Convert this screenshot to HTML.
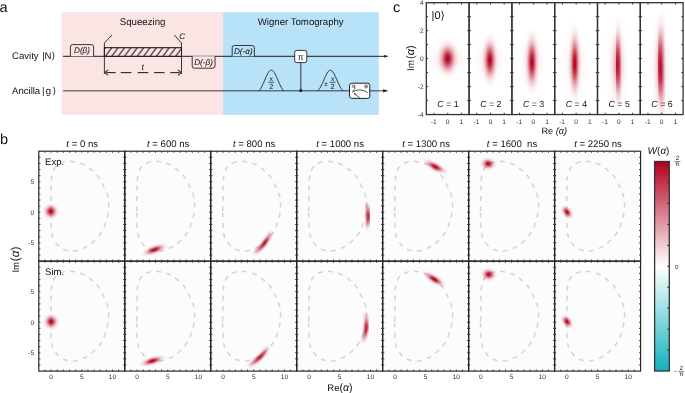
<!DOCTYPE html>
<html><head><meta charset="utf-8"><style>
html,body{margin:0;padding:0;background:#fff;}
.w{will-change:transform;width:685px;height:393px;}
svg{display:block;font-family:"Liberation Sans", sans-serif;text-rendering:geometricPrecision;}
</style></head><body>
<div class="w"><svg width="685" height="393" viewBox="0 0 685 393">
<defs><radialGradient id="g1" cx="0.5" cy="0.5" r="0.5"><stop offset="0.00" stop-color="#b4001e" stop-opacity="1.000"/><stop offset="0.10" stop-color="#b4001e" stop-opacity="0.956"/><stop offset="0.20" stop-color="#b4001e" stop-opacity="0.835"/><stop offset="0.30" stop-color="#b4001e" stop-opacity="0.667"/><stop offset="0.40" stop-color="#b4001e" stop-opacity="0.487"/><stop offset="0.50" stop-color="#b4001e" stop-opacity="0.325"/><stop offset="0.60" stop-color="#b4001e" stop-opacity="0.198"/><stop offset="0.70" stop-color="#b4001e" stop-opacity="0.110"/><stop offset="0.80" stop-color="#b4001e" stop-opacity="0.056"/><stop offset="0.90" stop-color="#b4001e" stop-opacity="0.026"/><stop offset="1.00" stop-color="#b4001e" stop-opacity="0.000"/></radialGradient><radialGradient id="g09" cx="0.5" cy="0.5" r="0.5"><stop offset="0.00" stop-color="#b4001e" stop-opacity="0.920"/><stop offset="0.10" stop-color="#b4001e" stop-opacity="0.880"/><stop offset="0.20" stop-color="#b4001e" stop-opacity="0.768"/><stop offset="0.30" stop-color="#b4001e" stop-opacity="0.614"/><stop offset="0.40" stop-color="#b4001e" stop-opacity="0.448"/><stop offset="0.50" stop-color="#b4001e" stop-opacity="0.299"/><stop offset="0.60" stop-color="#b4001e" stop-opacity="0.182"/><stop offset="0.70" stop-color="#b4001e" stop-opacity="0.101"/><stop offset="0.80" stop-color="#b4001e" stop-opacity="0.052"/><stop offset="0.90" stop-color="#b4001e" stop-opacity="0.024"/><stop offset="1.00" stop-color="#b4001e" stop-opacity="0.000"/></radialGradient><radialGradient id="g08" cx="0.5" cy="0.5" r="0.5"><stop offset="0.00" stop-color="#b4001e" stop-opacity="0.850"/><stop offset="0.10" stop-color="#b4001e" stop-opacity="0.813"/><stop offset="0.20" stop-color="#b4001e" stop-opacity="0.710"/><stop offset="0.30" stop-color="#b4001e" stop-opacity="0.567"/><stop offset="0.40" stop-color="#b4001e" stop-opacity="0.414"/><stop offset="0.50" stop-color="#b4001e" stop-opacity="0.276"/><stop offset="0.60" stop-color="#b4001e" stop-opacity="0.168"/><stop offset="0.70" stop-color="#b4001e" stop-opacity="0.094"/><stop offset="0.80" stop-color="#b4001e" stop-opacity="0.048"/><stop offset="0.90" stop-color="#b4001e" stop-opacity="0.022"/><stop offset="1.00" stop-color="#b4001e" stop-opacity="0.000"/></radialGradient><radialGradient id="gh" cx="0.5" cy="0.5" r="0.5"><stop offset="0.00" stop-color="#b4001e" stop-opacity="0.100"/><stop offset="0.10" stop-color="#b4001e" stop-opacity="0.096"/><stop offset="0.20" stop-color="#b4001e" stop-opacity="0.084"/><stop offset="0.30" stop-color="#b4001e" stop-opacity="0.067"/><stop offset="0.40" stop-color="#b4001e" stop-opacity="0.049"/><stop offset="0.50" stop-color="#b4001e" stop-opacity="0.032"/><stop offset="0.60" stop-color="#b4001e" stop-opacity="0.020"/><stop offset="0.70" stop-color="#b4001e" stop-opacity="0.011"/><stop offset="0.80" stop-color="#b4001e" stop-opacity="0.006"/><stop offset="0.90" stop-color="#b4001e" stop-opacity="0.003"/><stop offset="1.00" stop-color="#b4001e" stop-opacity="0.000"/></radialGradient><radialGradient id="g03" cx="0.5" cy="0.5" r="0.5"><stop offset="0.00" stop-color="#b4001e" stop-opacity="0.350"/><stop offset="0.10" stop-color="#b4001e" stop-opacity="0.335"/><stop offset="0.20" stop-color="#b4001e" stop-opacity="0.292"/><stop offset="0.30" stop-color="#b4001e" stop-opacity="0.233"/><stop offset="0.40" stop-color="#b4001e" stop-opacity="0.170"/><stop offset="0.50" stop-color="#b4001e" stop-opacity="0.114"/><stop offset="0.60" stop-color="#b4001e" stop-opacity="0.069"/><stop offset="0.70" stop-color="#b4001e" stop-opacity="0.039"/><stop offset="0.80" stop-color="#b4001e" stop-opacity="0.020"/><stop offset="0.90" stop-color="#b4001e" stop-opacity="0.009"/><stop offset="1.00" stop-color="#b4001e" stop-opacity="0.000"/></radialGradient><linearGradient id="cbar" x1="0" y1="0" x2="0" y2="1"><stop offset="0" stop-color="#b3001f"/><stop offset="0.5" stop-color="#ffffff"/><stop offset="1" stop-color="#14b1bc"/></linearGradient><pattern id="hatch" width="5.1" height="10" patternUnits="userSpaceOnUse" patternTransform="translate(104.4 47.4) rotate(37)"><rect width="5.1" height="10" fill="#fbe4e4"/><line x1="1" y1="0" x2="1" y2="10" stroke="#1a1a1a" stroke-width="1.05"/></pattern><marker id="arr" viewBox="0 0 10 10" refX="9" refY="5" markerWidth="4.6" markerHeight="3.6" orient="auto" markerUnits="userSpaceOnUse"><path d="M0,1 L10,5 L0,9 z" fill="#222"/></marker><marker id="arrg" viewBox="0 0 10 10" refX="9" refY="5" markerWidth="6" markerHeight="6" orient="auto" markerUnits="userSpaceOnUse"><path d="M0,1 L10,5 L0,9 z" fill="#222"/></marker><clipPath id="cc0"><rect x="426.30" y="2.7" width="42.80" height="111.85"/></clipPath><clipPath id="cc1"><rect x="469.10" y="2.7" width="42.80" height="111.85"/></clipPath><clipPath id="cc2"><rect x="511.90" y="2.7" width="42.80" height="111.85"/></clipPath><clipPath id="cc3"><rect x="554.70" y="2.7" width="42.80" height="111.85"/></clipPath><linearGradient id="lg1" gradientUnits="userSpaceOnUse" x1="618.4904" y1="21.23656249999999" x2="619.1304" y2="108.5965625"><stop offset="0.0" stop-color="#b4001e" stop-opacity="0.018"/><stop offset="0.083" stop-color="#b4001e" stop-opacity="0.062"/><stop offset="0.167" stop-color="#b4001e" stop-opacity="0.169"/><stop offset="0.25" stop-color="#b4001e" stop-opacity="0.368"/><stop offset="0.333" stop-color="#b4001e" stop-opacity="0.641"/><stop offset="0.417" stop-color="#b4001e" stop-opacity="0.895"/><stop offset="0.5" stop-color="#b4001e" stop-opacity="1.000"/><stop offset="0.583" stop-color="#b4001e" stop-opacity="0.895"/><stop offset="0.667" stop-color="#b4001e" stop-opacity="0.641"/><stop offset="0.75" stop-color="#b4001e" stop-opacity="0.368"/><stop offset="0.833" stop-color="#b4001e" stop-opacity="0.169"/><stop offset="0.917" stop-color="#b4001e" stop-opacity="0.062"/><stop offset="1.0" stop-color="#b4001e" stop-opacity="0.018"/></linearGradient><filter id="fb1" x="-50%" y="-50%" width="200%" height="200%"><feGaussianBlur stdDeviation="1.7"/></filter><clipPath id="cc4"><rect x="597.50" y="2.7" width="42.80" height="111.85"/></clipPath><linearGradient id="lg2" gradientUnits="userSpaceOnUse" x1="661.8904" y1="13.713749999999997" x2="662.9304000000001" y2="120.31375"><stop offset="0.0" stop-color="#b4001e" stop-opacity="0.018"/><stop offset="0.083" stop-color="#b4001e" stop-opacity="0.062"/><stop offset="0.167" stop-color="#b4001e" stop-opacity="0.169"/><stop offset="0.25" stop-color="#b4001e" stop-opacity="0.368"/><stop offset="0.333" stop-color="#b4001e" stop-opacity="0.641"/><stop offset="0.417" stop-color="#b4001e" stop-opacity="0.895"/><stop offset="0.5" stop-color="#b4001e" stop-opacity="1.000"/><stop offset="0.583" stop-color="#b4001e" stop-opacity="0.895"/><stop offset="0.667" stop-color="#b4001e" stop-opacity="0.641"/><stop offset="0.75" stop-color="#b4001e" stop-opacity="0.368"/><stop offset="0.833" stop-color="#b4001e" stop-opacity="0.169"/><stop offset="0.917" stop-color="#b4001e" stop-opacity="0.062"/><stop offset="1.0" stop-color="#b4001e" stop-opacity="0.018"/></linearGradient><filter id="fb2" x="-50%" y="-50%" width="200%" height="200%"><feGaussianBlur stdDeviation="1.7"/></filter><clipPath id="cc5"><rect x="640.30" y="2.7" width="42.80" height="111.85"/></clipPath><path id="dcurve" d="M12.00,60.00 C12.02,54.67 12.20,45.33 12.30,40.00 C12.40,34.67 12.23,31.42 12.60,28.00 C12.97,24.58 13.60,21.75 14.50,19.50 C15.40,17.25 16.35,15.92 18.00,14.50 C19.65,13.08 21.77,11.70 24.40,11.00 C27.03,10.30 30.48,9.95 33.80,10.30 C37.12,10.65 41.15,11.70 44.30,13.10 C47.45,14.50 50.13,16.60 52.70,18.70 C55.27,20.80 57.72,23.02 59.70,25.70 C61.68,28.38 63.08,31.65 64.60,34.80 C66.12,37.95 67.92,41.57 68.80,44.60 C69.68,47.63 69.92,49.67 69.90,53.00 C69.88,56.33 69.68,60.30 68.70,64.60 C67.72,68.90 66.10,74.72 64.00,78.80 C61.90,82.88 59.00,86.20 56.10,89.10 C53.20,92.00 50.03,94.42 46.60,96.20 C43.17,97.98 38.92,99.40 35.50,99.80 C32.08,100.20 28.98,99.73 26.10,98.60 C23.22,97.47 20.32,95.38 18.20,93.00 C16.08,90.62 14.40,87.80 13.40,84.30 C12.40,80.80 12.43,76.05 12.20,72.00 C11.97,67.95 11.98,65.33 12.00,60.00 Z" fill="none" stroke="#d5d5d5" stroke-width="1.6" stroke-dasharray="5 5.2"/><linearGradient id="lg3" gradientUnits="userSpaceOnUse" x1="252.74285714285713" y1="254.7" x2="271.74285714285713" y2="230.7"><stop offset="0" stop-color="#b4001e" stop-opacity="0.000"/><stop offset="0.2" stop-color="#b4001e" stop-opacity="0.400"/><stop offset="0.45" stop-color="#b4001e" stop-opacity="1.000"/><stop offset="0.6" stop-color="#b4001e" stop-opacity="1.000"/><stop offset="0.8" stop-color="#b4001e" stop-opacity="0.450"/><stop offset="1" stop-color="#b4001e" stop-opacity="0.000"/></linearGradient><filter id="fb3" x="-50%" y="-50%" width="200%" height="200%"><feGaussianBlur stdDeviation="1.3"/></filter><linearGradient id="lg4" gradientUnits="userSpaceOnUse" x1="366.2142857142857" y1="201.7" x2="366.51428571428573" y2="229.7"><stop offset="0" stop-color="#b4001e" stop-opacity="0.000"/><stop offset="0.2" stop-color="#b4001e" stop-opacity="0.400"/><stop offset="0.45" stop-color="#b4001e" stop-opacity="1.000"/><stop offset="0.6" stop-color="#b4001e" stop-opacity="1.000"/><stop offset="0.8" stop-color="#b4001e" stop-opacity="0.450"/><stop offset="1" stop-color="#b4001e" stop-opacity="0.000"/></linearGradient><filter id="fb4" x="-50%" y="-50%" width="200%" height="200%"><feGaussianBlur stdDeviation="1.2"/></filter><linearGradient id="lg5" gradientUnits="userSpaceOnUse" x1="247.74285714285713" y1="366.65" x2="269.04285714285714" y2="346.15"><stop offset="0" stop-color="#b4001e" stop-opacity="0.000"/><stop offset="0.2" stop-color="#b4001e" stop-opacity="0.400"/><stop offset="0.45" stop-color="#b4001e" stop-opacity="1.000"/><stop offset="0.6" stop-color="#b4001e" stop-opacity="1.000"/><stop offset="0.8" stop-color="#b4001e" stop-opacity="0.450"/><stop offset="1" stop-color="#b4001e" stop-opacity="0.000"/></linearGradient><filter id="fb5" x="-50%" y="-50%" width="200%" height="200%"><feGaussianBlur stdDeviation="1.3"/></filter><linearGradient id="lg6" gradientUnits="userSpaceOnUse" x1="365.2142857142857" y1="312.15" x2="362.51428571428573" y2="343.15"><stop offset="0" stop-color="#b4001e" stop-opacity="0.000"/><stop offset="0.2" stop-color="#b4001e" stop-opacity="0.400"/><stop offset="0.45" stop-color="#b4001e" stop-opacity="1.000"/><stop offset="0.6" stop-color="#b4001e" stop-opacity="1.000"/><stop offset="0.8" stop-color="#b4001e" stop-opacity="0.450"/><stop offset="1" stop-color="#b4001e" stop-opacity="0.000"/></linearGradient><filter id="fb6" x="-50%" y="-50%" width="200%" height="200%"><feGaussianBlur stdDeviation="1.2"/></filter></defs>
<rect width="685" height="393" fill="#fff"/>
<text x="-0.60" y="11.50" font-size="14.5" text-anchor="start" fill="#111" >a</text>
<text x="0.00" y="144.00" font-size="14.5" text-anchor="start" fill="#111" >b</text>
<text x="393.00" y="11.60" font-size="14.5" text-anchor="start" fill="#111" >c</text>
<rect x="61.5" y="12.2" width="161.6" height="102.6" fill="#fbe4e4"/>
<rect x="223.1" y="12.2" width="155.7" height="102.6" fill="#b8e2f8"/>
<text x="142.60" y="24.60" font-size="9.7" text-anchor="middle" fill="#111" >Squeezing</text>
<text x="300.70" y="24.50" font-size="9.65" text-anchor="middle" fill="#111" >Wigner Tomography</text>
<text x="12.00" y="58.90" font-size="9.6" text-anchor="start" fill="#111" >Cavity <tspan dx="0.8">|N&#10217;</tspan></text>
<text x="12.00" y="94.20" font-size="9.6" text-anchor="start" fill="#111" >Ancill<tspan dx="-0.2">a</tspan> <tspan dx="-0.8">|</tspan><tspan dx="1.4">g</tspan><tspan dx="1.2">&#10217;</tspan></text>
<line x1="63" y1="56.3" x2="387.5" y2="56.3" stroke="#1e1e1e" stroke-width="1" marker-end="url(#arr)"/>
<line x1="63" y1="90.8" x2="387.5" y2="90.8" stroke="rgba(0,0,0,0.5)" stroke-width="1.6"/>
<path d="M383.2,89.1 L387.6,90.8 L383.2,92.5 z" fill="#222"/>
<path d="M70.4,56.3 L70.4,46.800000000000004 Q70.4,44.6 72.60000000000001,44.6 L91.39999999999999,44.6 Q93.6,44.6 93.6,46.800000000000004 L93.6,56.3" fill="#fbe4e4" stroke="#222" stroke-width="0.9"/><text x="82.00" y="53.35" font-size="8.2" text-anchor="middle" font-style="italic" fill="#111" >D(&#946;)</text>
<path d="M192.2,56.3 L192.2,66.0 Q192.2,68.2 194.39999999999998,68.2 L212.8,68.2 Q215.0,68.2 215.0,66.0 L215.0,56.3" fill="#fbe4e4" stroke="#222" stroke-width="0.9"/><text x="203.60" y="65.15" font-size="8.2" text-anchor="middle" font-style="italic" fill="#111" >D(-&#946;)</text>
<path d="M232.2,56.3 L232.2,47.7 Q232.2,45.5 234.39999999999998,45.5 L252.20000000000002,45.5 Q254.4,45.5 254.4,47.7 L254.4,56.3" fill="#b8e2f8" stroke="#222" stroke-width="0.9"/><text x="243.30" y="53.80" font-size="8.2" text-anchor="middle" font-style="italic" fill="#111" >D(-&#945;)</text>
<rect x="104.4" y="47.7" width="77.1" height="8.6" fill="url(#hatch)" stroke="#1a1a1a" stroke-width="1.1"/>
<path d="M112,35 L104.4,43 L104.4,74" fill="none" stroke="#222" stroke-width="0.9"/>
<path d="M174.3,35 L181.5,43 L181.5,74" fill="none" stroke="#222" stroke-width="0.9"/>
<text x="179.30" y="38.60" font-size="8" text-anchor="start" font-style="italic" fill="#111" >C</text>
<line x1="106.2" y1="72.6" x2="115.7" y2="72.6" stroke="#333" stroke-width="1.15"/>
<line x1="120.7" y1="72.6" x2="131.4" y2="72.6" stroke="#333" stroke-width="1.15"/>
<line x1="137.6" y1="72.6" x2="148.3" y2="72.6" stroke="#333" stroke-width="1.15"/>
<line x1="154.0" y1="72.6" x2="164.6" y2="72.6" stroke="#333" stroke-width="1.15"/>
<line x1="170.3" y1="72.6" x2="179.6" y2="72.6" stroke="#333" stroke-width="1.15"/>
<path d="M108.0,69.9 L104.9,72.6 L108.0,75.3" fill="none" stroke="#333" stroke-width="1.1"/>
<path d="M178.0,69.9 L181.1,72.6 L178.0,75.3" fill="none" stroke="#333" stroke-width="1.1"/>
<text x="142.70" y="69.70" font-size="8.5" text-anchor="middle" font-style="italic" fill="#111" >t</text>
<polyline points="259.05,90.80 259.66,90.02 260.28,89.15 260.89,88.17 261.50,87.10 262.11,85.93 262.73,84.67 263.34,83.34 263.95,81.96 264.56,80.54 265.18,79.10 265.79,77.68 266.40,76.29 267.01,74.98 267.62,73.76 268.24,72.68 268.85,71.75 269.46,71.00 270.07,70.45 270.69,70.11 271.30,70.00 271.91,70.11 272.53,70.45 273.14,71.00 273.75,71.75 274.36,72.68 274.98,73.76 275.59,74.98 276.20,76.29 276.81,77.68 277.43,79.10 278.04,80.54 278.65,81.96 279.26,83.34 279.88,84.67 280.49,85.93 281.10,87.10 281.71,88.17 282.32,89.15 282.94,90.02 283.55,90.80" fill="none" stroke="#222" stroke-width="0.9"/>
<polyline points="317.90,90.80 318.52,90.07 319.15,89.23 319.77,88.29 320.40,87.25 321.02,86.12 321.65,84.89 322.27,83.59 322.90,82.22 323.52,80.81 324.15,79.37 324.77,77.95 325.40,76.56 326.02,75.24 326.65,74.02 327.27,72.92 327.90,71.98 328.52,71.22 329.15,70.66 329.77,70.32 330.40,70.20 331.02,70.32 331.65,70.66 332.27,71.22 332.90,71.98 333.52,72.92 334.15,74.02 334.77,75.24 335.40,76.56 336.02,77.95 336.65,79.37 337.27,80.81 337.90,82.22 338.52,83.59 339.15,84.89 339.77,86.12 340.40,87.25 341.02,88.29 341.65,89.23 342.27,90.07 342.90,90.80" fill="none" stroke="#222" stroke-width="0.9"/>
<text x="271.30" y="81.30" font-size="6.8" text-anchor="middle" fill="#111" >x</text><line x1="268.30" y1="82.30" x2="274.30" y2="82.30" stroke="#222" stroke-width="0.7"/><text x="271.30" y="89.00" font-size="7.4" text-anchor="middle" fill="#111" >2</text>
<text x="332.60" y="81.30" font-size="6.8" text-anchor="middle" fill="#111" >x</text><line x1="329.60" y1="82.30" x2="335.60" y2="82.30" stroke="#222" stroke-width="0.7"/><text x="332.60" y="89.00" font-size="7.4" text-anchor="middle" fill="#111" >2</text>
<text x="326.00" y="85.60" font-size="6.2" text-anchor="middle" fill="#111" >&#177;</text>
<line x1="300.8" y1="62.6" x2="300.8" y2="90.8" stroke="#222" stroke-width="0.9"/>
<circle cx="300.8" cy="90.6" r="1.5" fill="#111"/>
<rect x="294.7" y="50.4" width="12.1" height="12.2" rx="2" fill="#fff" stroke="#222" stroke-width="0.9"/>
<text x="300.80" y="59.80" font-size="8.5" text-anchor="middle" fill="#111" >&#960;</text>
<rect x="349.5" y="83.2" width="20.3" height="15.2" rx="2.2" fill="#fffafa" stroke="#222" stroke-width="1"/>
<path d="M352,92.2 Q360,87.4 367.7,92.6" fill="none" stroke="#222" stroke-width="0.75"/>
<path d="M354,93.2 L359.8,97.9" fill="none" stroke="#222" stroke-width="0.8"/>
<path d="M353.6,92.8 L356.4,94.2 L355.2,95.3 z" fill="#222"/>
<circle cx="353.5" cy="86.2" r="1.25" fill="none" stroke="#222" stroke-width="0.6"/><path d="M354.75,85.2 L354.75,89.3 Q354.6,90.6 353.3,90.5 L352.6,90.2" fill="none" stroke="#222" stroke-width="0.6"/>
<ellipse cx="366.1" cy="86.4" rx="1.35" ry="1.6" fill="none" stroke="#222" stroke-width="0.6"/><line x1="364.8" y1="86.4" x2="367.4" y2="86.4" stroke="#222" stroke-width="0.5"/>
<g clip-path="url(#cc0)">
<ellipse cx="447.70" cy="58.62" rx="26.60" ry="21.76" fill="url(#gh)" transform="rotate(0.0 447.70 58.62)"/>
<ellipse cx="447.70" cy="58.62" rx="11.40" ry="20.40" fill="url(#g1)" transform="rotate(0.0 447.70 58.62)"/>
</g>
<g clip-path="url(#cc1)">
<ellipse cx="489.82" cy="60.02" rx="20.30" ry="29.44" fill="url(#gh)" transform="rotate(0.0 489.82 60.02)"/>
<ellipse cx="489.82" cy="60.02" rx="8.70" ry="27.60" fill="url(#g1)" transform="rotate(0.0 489.82 60.02)"/>
</g>
<g clip-path="url(#cc2)">
<ellipse cx="531.93" cy="62.12" rx="18.20" ry="36.80" fill="url(#gh)" transform="rotate(0.0 531.93 62.12)"/>
<ellipse cx="531.93" cy="62.12" rx="7.80" ry="34.50" fill="url(#g1)" transform="rotate(0.0 531.93 62.12)"/>
</g>
<g clip-path="url(#cc3)">
<ellipse cx="574.73" cy="63.52" rx="16.10" ry="44.80" fill="url(#gh)" transform="rotate(0.0 574.73 63.52)"/>
<ellipse cx="574.73" cy="63.52" rx="6.90" ry="42.00" fill="url(#g1)" transform="rotate(0.0 574.73 63.52)"/>
</g>
<g clip-path="url(#cc4)">
<ellipse cx="617.53" cy="64.92" rx="14.70" ry="53.76" fill="url(#gh)" transform="rotate(0.0 617.53 64.92)"/>
<ellipse cx="617.53" cy="64.92" rx="8.82" ry="45.36" fill="url(#g03)" transform="rotate(0.0 617.53 64.92)"/>
<path d="M618.4904,21.23656249999999 Q615.9304,64.9165625 619.1304,108.5965625" fill="none" stroke="url(#lg1)" stroke-width="5.0" stroke-linecap="round" filter="url(#fb1)"/>
</g>
<g clip-path="url(#cc5)">
<ellipse cx="660.33" cy="67.01" rx="13.30" ry="65.60" fill="url(#gh)" transform="rotate(0.0 660.33 67.01)"/>
<ellipse cx="660.33" cy="67.01" rx="7.98" ry="55.35" fill="url(#g03)" transform="rotate(0.0 660.33 67.01)"/>
<path d="M661.8904,13.713749999999997 Q657.7304,67.01375 662.9304000000001,120.31375" fill="none" stroke="url(#lg2)" stroke-width="5.0" stroke-linecap="round" filter="url(#fb2)"/>
</g>
<rect x="426.30" y="2.7" width="42.80" height="111.85" fill="none" stroke="#333" stroke-width="1.3"/>
<line x1="426.30" y1="100.57" x2="428.10" y2="100.57" stroke="#333" stroke-width="1"/>
<line x1="467.30" y1="100.57" x2="469.10" y2="100.57" stroke="#333" stroke-width="1"/>
<line x1="426.30" y1="86.59" x2="428.10" y2="86.59" stroke="#333" stroke-width="1"/>
<line x1="467.30" y1="86.59" x2="469.10" y2="86.59" stroke="#333" stroke-width="1"/>
<line x1="426.30" y1="72.61" x2="428.10" y2="72.61" stroke="#333" stroke-width="1"/>
<line x1="467.30" y1="72.61" x2="469.10" y2="72.61" stroke="#333" stroke-width="1"/>
<line x1="426.30" y1="58.62" x2="428.10" y2="58.62" stroke="#333" stroke-width="1"/>
<line x1="467.30" y1="58.62" x2="469.10" y2="58.62" stroke="#333" stroke-width="1"/>
<line x1="426.30" y1="44.64" x2="428.10" y2="44.64" stroke="#333" stroke-width="1"/>
<line x1="467.30" y1="44.64" x2="469.10" y2="44.64" stroke="#333" stroke-width="1"/>
<line x1="426.30" y1="30.66" x2="428.10" y2="30.66" stroke="#333" stroke-width="1"/>
<line x1="467.30" y1="30.66" x2="469.10" y2="30.66" stroke="#333" stroke-width="1"/>
<line x1="426.30" y1="16.68" x2="428.10" y2="16.68" stroke="#333" stroke-width="1"/>
<line x1="467.30" y1="16.68" x2="469.10" y2="16.68" stroke="#333" stroke-width="1"/>
<line x1="434.00" y1="114.55" x2="434.00" y2="112.75" stroke="#333" stroke-width="1"/>
<line x1="434.00" y1="2.7" x2="434.00" y2="4.50" stroke="#333" stroke-width="1"/>
<text x="433.70" y="123.50" font-size="6.6" text-anchor="middle" fill="#333" >-1</text>
<line x1="447.70" y1="114.55" x2="447.70" y2="112.75" stroke="#333" stroke-width="1"/>
<line x1="447.70" y1="2.7" x2="447.70" y2="4.50" stroke="#333" stroke-width="1"/>
<text x="447.70" y="123.50" font-size="6.6" text-anchor="middle" fill="#333" >0</text>
<line x1="461.40" y1="114.55" x2="461.40" y2="112.75" stroke="#333" stroke-width="1"/>
<line x1="461.40" y1="2.7" x2="461.40" y2="4.50" stroke="#333" stroke-width="1"/>
<text x="461.40" y="123.50" font-size="6.6" text-anchor="middle" fill="#333" >1</text>
<text x="448.00" y="107.20" font-size="8.8" text-anchor="middle" fill="#111" ><tspan font-style="italic">C</tspan> = 1</text>
<rect x="469.10" y="2.7" width="42.80" height="111.85" fill="none" stroke="#333" stroke-width="1.3"/>
<line x1="469.10" y1="100.57" x2="470.90" y2="100.57" stroke="#333" stroke-width="1"/>
<line x1="510.10" y1="100.57" x2="511.90" y2="100.57" stroke="#333" stroke-width="1"/>
<line x1="469.10" y1="86.59" x2="470.90" y2="86.59" stroke="#333" stroke-width="1"/>
<line x1="510.10" y1="86.59" x2="511.90" y2="86.59" stroke="#333" stroke-width="1"/>
<line x1="469.10" y1="72.61" x2="470.90" y2="72.61" stroke="#333" stroke-width="1"/>
<line x1="510.10" y1="72.61" x2="511.90" y2="72.61" stroke="#333" stroke-width="1"/>
<line x1="469.10" y1="58.62" x2="470.90" y2="58.62" stroke="#333" stroke-width="1"/>
<line x1="510.10" y1="58.62" x2="511.90" y2="58.62" stroke="#333" stroke-width="1"/>
<line x1="469.10" y1="44.64" x2="470.90" y2="44.64" stroke="#333" stroke-width="1"/>
<line x1="510.10" y1="44.64" x2="511.90" y2="44.64" stroke="#333" stroke-width="1"/>
<line x1="469.10" y1="30.66" x2="470.90" y2="30.66" stroke="#333" stroke-width="1"/>
<line x1="510.10" y1="30.66" x2="511.90" y2="30.66" stroke="#333" stroke-width="1"/>
<line x1="469.10" y1="16.68" x2="470.90" y2="16.68" stroke="#333" stroke-width="1"/>
<line x1="510.10" y1="16.68" x2="511.90" y2="16.68" stroke="#333" stroke-width="1"/>
<line x1="476.80" y1="114.55" x2="476.80" y2="112.75" stroke="#333" stroke-width="1"/>
<line x1="476.80" y1="2.7" x2="476.80" y2="4.50" stroke="#333" stroke-width="1"/>
<text x="476.50" y="123.50" font-size="6.6" text-anchor="middle" fill="#333" >-1</text>
<line x1="490.50" y1="114.55" x2="490.50" y2="112.75" stroke="#333" stroke-width="1"/>
<line x1="490.50" y1="2.7" x2="490.50" y2="4.50" stroke="#333" stroke-width="1"/>
<text x="490.50" y="123.50" font-size="6.6" text-anchor="middle" fill="#333" >0</text>
<line x1="504.20" y1="114.55" x2="504.20" y2="112.75" stroke="#333" stroke-width="1"/>
<line x1="504.20" y1="2.7" x2="504.20" y2="4.50" stroke="#333" stroke-width="1"/>
<text x="504.20" y="123.50" font-size="6.6" text-anchor="middle" fill="#333" >1</text>
<text x="490.80" y="107.20" font-size="8.8" text-anchor="middle" fill="#111" ><tspan font-style="italic">C</tspan> = 2</text>
<rect x="511.90" y="2.7" width="42.80" height="111.85" fill="none" stroke="#333" stroke-width="1.3"/>
<line x1="511.90" y1="100.57" x2="513.70" y2="100.57" stroke="#333" stroke-width="1"/>
<line x1="552.90" y1="100.57" x2="554.70" y2="100.57" stroke="#333" stroke-width="1"/>
<line x1="511.90" y1="86.59" x2="513.70" y2="86.59" stroke="#333" stroke-width="1"/>
<line x1="552.90" y1="86.59" x2="554.70" y2="86.59" stroke="#333" stroke-width="1"/>
<line x1="511.90" y1="72.61" x2="513.70" y2="72.61" stroke="#333" stroke-width="1"/>
<line x1="552.90" y1="72.61" x2="554.70" y2="72.61" stroke="#333" stroke-width="1"/>
<line x1="511.90" y1="58.62" x2="513.70" y2="58.62" stroke="#333" stroke-width="1"/>
<line x1="552.90" y1="58.62" x2="554.70" y2="58.62" stroke="#333" stroke-width="1"/>
<line x1="511.90" y1="44.64" x2="513.70" y2="44.64" stroke="#333" stroke-width="1"/>
<line x1="552.90" y1="44.64" x2="554.70" y2="44.64" stroke="#333" stroke-width="1"/>
<line x1="511.90" y1="30.66" x2="513.70" y2="30.66" stroke="#333" stroke-width="1"/>
<line x1="552.90" y1="30.66" x2="554.70" y2="30.66" stroke="#333" stroke-width="1"/>
<line x1="511.90" y1="16.68" x2="513.70" y2="16.68" stroke="#333" stroke-width="1"/>
<line x1="552.90" y1="16.68" x2="554.70" y2="16.68" stroke="#333" stroke-width="1"/>
<line x1="519.60" y1="114.55" x2="519.60" y2="112.75" stroke="#333" stroke-width="1"/>
<line x1="519.60" y1="2.7" x2="519.60" y2="4.50" stroke="#333" stroke-width="1"/>
<text x="519.30" y="123.50" font-size="6.6" text-anchor="middle" fill="#333" >-1</text>
<line x1="533.30" y1="114.55" x2="533.30" y2="112.75" stroke="#333" stroke-width="1"/>
<line x1="533.30" y1="2.7" x2="533.30" y2="4.50" stroke="#333" stroke-width="1"/>
<text x="533.30" y="123.50" font-size="6.6" text-anchor="middle" fill="#333" >0</text>
<line x1="547.00" y1="114.55" x2="547.00" y2="112.75" stroke="#333" stroke-width="1"/>
<line x1="547.00" y1="2.7" x2="547.00" y2="4.50" stroke="#333" stroke-width="1"/>
<text x="547.00" y="123.50" font-size="6.6" text-anchor="middle" fill="#333" >1</text>
<text x="533.60" y="107.20" font-size="8.8" text-anchor="middle" fill="#111" ><tspan font-style="italic">C</tspan> = 3</text>
<rect x="554.70" y="2.7" width="42.80" height="111.85" fill="none" stroke="#333" stroke-width="1.3"/>
<line x1="554.70" y1="100.57" x2="556.50" y2="100.57" stroke="#333" stroke-width="1"/>
<line x1="595.70" y1="100.57" x2="597.50" y2="100.57" stroke="#333" stroke-width="1"/>
<line x1="554.70" y1="86.59" x2="556.50" y2="86.59" stroke="#333" stroke-width="1"/>
<line x1="595.70" y1="86.59" x2="597.50" y2="86.59" stroke="#333" stroke-width="1"/>
<line x1="554.70" y1="72.61" x2="556.50" y2="72.61" stroke="#333" stroke-width="1"/>
<line x1="595.70" y1="72.61" x2="597.50" y2="72.61" stroke="#333" stroke-width="1"/>
<line x1="554.70" y1="58.62" x2="556.50" y2="58.62" stroke="#333" stroke-width="1"/>
<line x1="595.70" y1="58.62" x2="597.50" y2="58.62" stroke="#333" stroke-width="1"/>
<line x1="554.70" y1="44.64" x2="556.50" y2="44.64" stroke="#333" stroke-width="1"/>
<line x1="595.70" y1="44.64" x2="597.50" y2="44.64" stroke="#333" stroke-width="1"/>
<line x1="554.70" y1="30.66" x2="556.50" y2="30.66" stroke="#333" stroke-width="1"/>
<line x1="595.70" y1="30.66" x2="597.50" y2="30.66" stroke="#333" stroke-width="1"/>
<line x1="554.70" y1="16.68" x2="556.50" y2="16.68" stroke="#333" stroke-width="1"/>
<line x1="595.70" y1="16.68" x2="597.50" y2="16.68" stroke="#333" stroke-width="1"/>
<line x1="562.40" y1="114.55" x2="562.40" y2="112.75" stroke="#333" stroke-width="1"/>
<line x1="562.40" y1="2.7" x2="562.40" y2="4.50" stroke="#333" stroke-width="1"/>
<text x="562.10" y="123.50" font-size="6.6" text-anchor="middle" fill="#333" >-1</text>
<line x1="576.10" y1="114.55" x2="576.10" y2="112.75" stroke="#333" stroke-width="1"/>
<line x1="576.10" y1="2.7" x2="576.10" y2="4.50" stroke="#333" stroke-width="1"/>
<text x="576.10" y="123.50" font-size="6.6" text-anchor="middle" fill="#333" >0</text>
<line x1="589.80" y1="114.55" x2="589.80" y2="112.75" stroke="#333" stroke-width="1"/>
<line x1="589.80" y1="2.7" x2="589.80" y2="4.50" stroke="#333" stroke-width="1"/>
<text x="589.80" y="123.50" font-size="6.6" text-anchor="middle" fill="#333" >1</text>
<text x="576.40" y="107.20" font-size="8.8" text-anchor="middle" fill="#111" ><tspan font-style="italic">C</tspan> = 4</text>
<rect x="597.50" y="2.7" width="42.80" height="111.85" fill="none" stroke="#333" stroke-width="1.3"/>
<line x1="597.50" y1="100.57" x2="599.30" y2="100.57" stroke="#333" stroke-width="1"/>
<line x1="638.50" y1="100.57" x2="640.30" y2="100.57" stroke="#333" stroke-width="1"/>
<line x1="597.50" y1="86.59" x2="599.30" y2="86.59" stroke="#333" stroke-width="1"/>
<line x1="638.50" y1="86.59" x2="640.30" y2="86.59" stroke="#333" stroke-width="1"/>
<line x1="597.50" y1="72.61" x2="599.30" y2="72.61" stroke="#333" stroke-width="1"/>
<line x1="638.50" y1="72.61" x2="640.30" y2="72.61" stroke="#333" stroke-width="1"/>
<line x1="597.50" y1="58.62" x2="599.30" y2="58.62" stroke="#333" stroke-width="1"/>
<line x1="638.50" y1="58.62" x2="640.30" y2="58.62" stroke="#333" stroke-width="1"/>
<line x1="597.50" y1="44.64" x2="599.30" y2="44.64" stroke="#333" stroke-width="1"/>
<line x1="638.50" y1="44.64" x2="640.30" y2="44.64" stroke="#333" stroke-width="1"/>
<line x1="597.50" y1="30.66" x2="599.30" y2="30.66" stroke="#333" stroke-width="1"/>
<line x1="638.50" y1="30.66" x2="640.30" y2="30.66" stroke="#333" stroke-width="1"/>
<line x1="597.50" y1="16.68" x2="599.30" y2="16.68" stroke="#333" stroke-width="1"/>
<line x1="638.50" y1="16.68" x2="640.30" y2="16.68" stroke="#333" stroke-width="1"/>
<line x1="605.20" y1="114.55" x2="605.20" y2="112.75" stroke="#333" stroke-width="1"/>
<line x1="605.20" y1="2.7" x2="605.20" y2="4.50" stroke="#333" stroke-width="1"/>
<text x="604.90" y="123.50" font-size="6.6" text-anchor="middle" fill="#333" >-1</text>
<line x1="618.90" y1="114.55" x2="618.90" y2="112.75" stroke="#333" stroke-width="1"/>
<line x1="618.90" y1="2.7" x2="618.90" y2="4.50" stroke="#333" stroke-width="1"/>
<text x="618.90" y="123.50" font-size="6.6" text-anchor="middle" fill="#333" >0</text>
<line x1="632.60" y1="114.55" x2="632.60" y2="112.75" stroke="#333" stroke-width="1"/>
<line x1="632.60" y1="2.7" x2="632.60" y2="4.50" stroke="#333" stroke-width="1"/>
<text x="632.60" y="123.50" font-size="6.6" text-anchor="middle" fill="#333" >1</text>
<text x="619.20" y="107.20" font-size="8.8" text-anchor="middle" fill="#111" ><tspan font-style="italic">C</tspan> = 5</text>
<rect x="640.30" y="2.7" width="42.80" height="111.85" fill="none" stroke="#333" stroke-width="1.3"/>
<line x1="640.30" y1="100.57" x2="642.10" y2="100.57" stroke="#333" stroke-width="1"/>
<line x1="681.30" y1="100.57" x2="683.10" y2="100.57" stroke="#333" stroke-width="1"/>
<line x1="640.30" y1="86.59" x2="642.10" y2="86.59" stroke="#333" stroke-width="1"/>
<line x1="681.30" y1="86.59" x2="683.10" y2="86.59" stroke="#333" stroke-width="1"/>
<line x1="640.30" y1="72.61" x2="642.10" y2="72.61" stroke="#333" stroke-width="1"/>
<line x1="681.30" y1="72.61" x2="683.10" y2="72.61" stroke="#333" stroke-width="1"/>
<line x1="640.30" y1="58.62" x2="642.10" y2="58.62" stroke="#333" stroke-width="1"/>
<line x1="681.30" y1="58.62" x2="683.10" y2="58.62" stroke="#333" stroke-width="1"/>
<line x1="640.30" y1="44.64" x2="642.10" y2="44.64" stroke="#333" stroke-width="1"/>
<line x1="681.30" y1="44.64" x2="683.10" y2="44.64" stroke="#333" stroke-width="1"/>
<line x1="640.30" y1="30.66" x2="642.10" y2="30.66" stroke="#333" stroke-width="1"/>
<line x1="681.30" y1="30.66" x2="683.10" y2="30.66" stroke="#333" stroke-width="1"/>
<line x1="640.30" y1="16.68" x2="642.10" y2="16.68" stroke="#333" stroke-width="1"/>
<line x1="681.30" y1="16.68" x2="683.10" y2="16.68" stroke="#333" stroke-width="1"/>
<line x1="648.00" y1="114.55" x2="648.00" y2="112.75" stroke="#333" stroke-width="1"/>
<line x1="648.00" y1="2.7" x2="648.00" y2="4.50" stroke="#333" stroke-width="1"/>
<text x="647.70" y="123.50" font-size="6.6" text-anchor="middle" fill="#333" >-1</text>
<line x1="661.70" y1="114.55" x2="661.70" y2="112.75" stroke="#333" stroke-width="1"/>
<line x1="661.70" y1="2.7" x2="661.70" y2="4.50" stroke="#333" stroke-width="1"/>
<text x="661.70" y="123.50" font-size="6.6" text-anchor="middle" fill="#333" >0</text>
<line x1="675.40" y1="114.55" x2="675.40" y2="112.75" stroke="#333" stroke-width="1"/>
<line x1="675.40" y1="2.7" x2="675.40" y2="4.50" stroke="#333" stroke-width="1"/>
<text x="675.40" y="123.50" font-size="6.6" text-anchor="middle" fill="#333" >1</text>
<text x="662.00" y="107.20" font-size="8.8" text-anchor="middle" fill="#111" ><tspan font-style="italic">C</tspan> = 6</text>
<text x="423.60" y="5.00" font-size="6.6" text-anchor="end" fill="#333" >4</text>
<text x="423.60" y="32.96" font-size="6.6" text-anchor="end" fill="#333" >2</text>
<text x="423.60" y="60.92" font-size="6.6" text-anchor="end" fill="#333" >0</text>
<text x="423.60" y="88.89" font-size="6.6" text-anchor="end" fill="#333" >-2</text>
<text x="423.60" y="116.85" font-size="6.6" text-anchor="end" fill="#333" >-4</text>
<text x="431.60" y="19.10" font-size="11" text-anchor="start" fill="#111" >|0&#10217;</text>
<text x="413.90" y="58.20" font-size="9.9" text-anchor="middle" fill="#111" transform="rotate(-90 413.9 58.2)">Im<tspan dx="1.0" font-size="11">(<tspan font-style="italic">&#945;</tspan>)</tspan></text>
<text x="554.30" y="134.00" font-size="9.2" text-anchor="middle" fill="#111" >Re <tspan font-style="italic">(&#945;)</tspan></text>
<rect x="38.80" y="151.20" width="85.97" height="109.95" fill="#fcfcfc"/>
<use href="#dcurve" transform="translate(38.80,151.20)"/>
<ellipse cx="50.80" cy="211.40" rx="9.00" ry="9.00" fill="url(#g1)" transform="rotate(0.0 50.80 211.40)"/>
<rect x="124.77" y="151.20" width="85.97" height="109.95" fill="#fcfcfc"/>
<use href="#dcurve" transform="translate(124.77,151.20)"/>
<ellipse cx="154.47" cy="249.70" rx="15.00" ry="5.40" fill="url(#g1)" transform="rotate(-20.0 154.47 249.70)"/>
<rect x="210.74" y="151.20" width="85.97" height="109.95" fill="#fcfcfc"/>
<use href="#dcurve" transform="translate(210.74,151.20)"/>
<path d="M252.74285714285713,254.7 Q265.54285714285714,245.2 271.74285714285713,230.7" fill="none" stroke="url(#lg3)" stroke-width="3.6" stroke-linecap="round" filter="url(#fb3)"/>
<rect x="296.71" y="151.20" width="85.97" height="109.95" fill="#fcfcfc"/>
<use href="#dcurve" transform="translate(296.71,151.20)"/>
<path d="M366.2142857142857,201.7 Q370.2142857142857,215.2 366.51428571428573,229.7" fill="none" stroke="url(#lg4)" stroke-width="3.4" stroke-linecap="round" filter="url(#fb4)"/>
<rect x="382.69" y="151.20" width="85.97" height="109.95" fill="#fcfcfc"/>
<use href="#dcurve" transform="translate(382.69,151.20)"/>
<ellipse cx="435.19" cy="166.70" rx="15.00" ry="5.25" fill="url(#g1)" transform="rotate(28.0 435.19 166.70)"/>
<rect x="468.66" y="151.20" width="85.97" height="109.95" fill="#fcfcfc"/>
<use href="#dcurve" transform="translate(468.66,151.20)"/>
<ellipse cx="488.16" cy="163.80" rx="9.00" ry="7.20" fill="url(#g1)" transform="rotate(10.0 488.16 163.80)"/>
<rect x="554.63" y="151.20" width="85.97" height="109.95" fill="#fcfcfc"/>
<use href="#dcurve" transform="translate(554.63,151.20)"/>
<ellipse cx="567.03" cy="212.10" rx="9.00" ry="5.70" fill="url(#g1)" transform="rotate(50.0 567.03 212.10)"/>
<rect x="38.80" y="261.15" width="85.97" height="109.95" fill="#fcfcfc"/>
<use href="#dcurve" transform="translate(38.80,261.15)"/>
<ellipse cx="51.10" cy="321.65" rx="9.00" ry="9.00" fill="url(#g1)" transform="rotate(0.0 51.10 321.65)"/>
<rect x="124.77" y="261.15" width="85.97" height="109.95" fill="#fcfcfc"/>
<use href="#dcurve" transform="translate(124.77,261.15)"/>
<ellipse cx="152.37" cy="360.95" rx="15.00" ry="5.10" fill="url(#g1)" transform="rotate(-17.0 152.37 360.95)"/>
<rect x="210.74" y="261.15" width="85.97" height="109.95" fill="#fcfcfc"/>
<use href="#dcurve" transform="translate(210.74,261.15)"/>
<path d="M247.74285714285713,366.65 Q260.84285714285716,358.95 269.04285714285714,346.15" fill="none" stroke="url(#lg5)" stroke-width="3.6" stroke-linecap="round" filter="url(#fb5)"/>
<rect x="296.71" y="261.15" width="85.97" height="109.95" fill="#fcfcfc"/>
<use href="#dcurve" transform="translate(296.71,261.15)"/>
<path d="M365.2142857142857,312.15 Q368.9142857142857,327.65 362.51428571428573,343.15" fill="none" stroke="url(#lg6)" stroke-width="3.4" stroke-linecap="round" filter="url(#fb6)"/>
<rect x="382.69" y="261.15" width="85.97" height="109.95" fill="#fcfcfc"/>
<use href="#dcurve" transform="translate(382.69,261.15)"/>
<ellipse cx="434.19" cy="279.25" rx="15.00" ry="5.25" fill="url(#g1)" transform="rotate(32.0 434.19 279.25)"/>
<rect x="468.66" y="261.15" width="85.97" height="109.95" fill="#fcfcfc"/>
<use href="#dcurve" transform="translate(468.66,261.15)"/>
<ellipse cx="488.76" cy="274.45" rx="9.00" ry="7.50" fill="url(#g1)" transform="rotate(10.0 488.76 274.45)"/>
<rect x="554.63" y="261.15" width="85.97" height="109.95" fill="#fcfcfc"/>
<use href="#dcurve" transform="translate(554.63,261.15)"/>
<ellipse cx="567.03" cy="321.65" rx="9.00" ry="5.70" fill="url(#g1)" transform="rotate(50.0 567.03 321.65)"/>
<rect x="38.80" y="151.20" width="85.97" height="109.95" fill="none" stroke="#222" stroke-width="1.15"/>
<line x1="44.94" y1="261.15" x2="44.94" y2="259.55" stroke="#333" stroke-width="0.9"/>
<line x1="44.94" y1="151.20" x2="44.94" y2="152.80" stroke="#333" stroke-width="0.9"/>
<line x1="51.08" y1="261.15" x2="51.08" y2="259.55" stroke="#333" stroke-width="0.9"/>
<line x1="51.08" y1="151.20" x2="51.08" y2="152.80" stroke="#333" stroke-width="0.9"/>
<line x1="57.22" y1="261.15" x2="57.22" y2="259.55" stroke="#333" stroke-width="0.9"/>
<line x1="57.22" y1="151.20" x2="57.22" y2="152.80" stroke="#333" stroke-width="0.9"/>
<line x1="63.36" y1="261.15" x2="63.36" y2="259.55" stroke="#333" stroke-width="0.9"/>
<line x1="63.36" y1="151.20" x2="63.36" y2="152.80" stroke="#333" stroke-width="0.9"/>
<line x1="69.50" y1="261.15" x2="69.50" y2="259.55" stroke="#333" stroke-width="0.9"/>
<line x1="69.50" y1="151.20" x2="69.50" y2="152.80" stroke="#333" stroke-width="0.9"/>
<line x1="75.64" y1="261.15" x2="75.64" y2="259.55" stroke="#333" stroke-width="0.9"/>
<line x1="75.64" y1="151.20" x2="75.64" y2="152.80" stroke="#333" stroke-width="0.9"/>
<line x1="81.79" y1="261.15" x2="81.79" y2="259.55" stroke="#333" stroke-width="0.9"/>
<line x1="81.79" y1="151.20" x2="81.79" y2="152.80" stroke="#333" stroke-width="0.9"/>
<line x1="87.93" y1="261.15" x2="87.93" y2="259.55" stroke="#333" stroke-width="0.9"/>
<line x1="87.93" y1="151.20" x2="87.93" y2="152.80" stroke="#333" stroke-width="0.9"/>
<line x1="94.07" y1="261.15" x2="94.07" y2="259.55" stroke="#333" stroke-width="0.9"/>
<line x1="94.07" y1="151.20" x2="94.07" y2="152.80" stroke="#333" stroke-width="0.9"/>
<line x1="100.21" y1="261.15" x2="100.21" y2="259.55" stroke="#333" stroke-width="0.9"/>
<line x1="100.21" y1="151.20" x2="100.21" y2="152.80" stroke="#333" stroke-width="0.9"/>
<line x1="106.35" y1="261.15" x2="106.35" y2="259.55" stroke="#333" stroke-width="0.9"/>
<line x1="106.35" y1="151.20" x2="106.35" y2="152.80" stroke="#333" stroke-width="0.9"/>
<line x1="112.49" y1="261.15" x2="112.49" y2="259.55" stroke="#333" stroke-width="0.9"/>
<line x1="112.49" y1="151.20" x2="112.49" y2="152.80" stroke="#333" stroke-width="0.9"/>
<line x1="118.63" y1="261.15" x2="118.63" y2="259.55" stroke="#333" stroke-width="0.9"/>
<line x1="118.63" y1="151.20" x2="118.63" y2="152.80" stroke="#333" stroke-width="0.9"/>
<line x1="38.80" y1="255.04" x2="40.40" y2="255.04" stroke="#333" stroke-width="0.9"/>
<line x1="123.17" y1="255.04" x2="124.77" y2="255.04" stroke="#333" stroke-width="0.9"/>
<line x1="38.80" y1="248.93" x2="40.40" y2="248.93" stroke="#333" stroke-width="0.9"/>
<line x1="123.17" y1="248.93" x2="124.77" y2="248.93" stroke="#333" stroke-width="0.9"/>
<line x1="38.80" y1="242.82" x2="40.40" y2="242.82" stroke="#333" stroke-width="0.9"/>
<line x1="123.17" y1="242.82" x2="124.77" y2="242.82" stroke="#333" stroke-width="0.9"/>
<line x1="38.80" y1="236.72" x2="40.40" y2="236.72" stroke="#333" stroke-width="0.9"/>
<line x1="123.17" y1="236.72" x2="124.77" y2="236.72" stroke="#333" stroke-width="0.9"/>
<line x1="38.80" y1="230.61" x2="40.40" y2="230.61" stroke="#333" stroke-width="0.9"/>
<line x1="123.17" y1="230.61" x2="124.77" y2="230.61" stroke="#333" stroke-width="0.9"/>
<line x1="38.80" y1="224.50" x2="40.40" y2="224.50" stroke="#333" stroke-width="0.9"/>
<line x1="123.17" y1="224.50" x2="124.77" y2="224.50" stroke="#333" stroke-width="0.9"/>
<line x1="38.80" y1="218.39" x2="40.40" y2="218.39" stroke="#333" stroke-width="0.9"/>
<line x1="123.17" y1="218.39" x2="124.77" y2="218.39" stroke="#333" stroke-width="0.9"/>
<line x1="38.80" y1="212.28" x2="40.40" y2="212.28" stroke="#333" stroke-width="0.9"/>
<line x1="123.17" y1="212.28" x2="124.77" y2="212.28" stroke="#333" stroke-width="0.9"/>
<line x1="38.80" y1="206.17" x2="40.40" y2="206.17" stroke="#333" stroke-width="0.9"/>
<line x1="123.17" y1="206.17" x2="124.77" y2="206.17" stroke="#333" stroke-width="0.9"/>
<line x1="38.80" y1="200.07" x2="40.40" y2="200.07" stroke="#333" stroke-width="0.9"/>
<line x1="123.17" y1="200.07" x2="124.77" y2="200.07" stroke="#333" stroke-width="0.9"/>
<line x1="38.80" y1="193.96" x2="40.40" y2="193.96" stroke="#333" stroke-width="0.9"/>
<line x1="123.17" y1="193.96" x2="124.77" y2="193.96" stroke="#333" stroke-width="0.9"/>
<line x1="38.80" y1="187.85" x2="40.40" y2="187.85" stroke="#333" stroke-width="0.9"/>
<line x1="123.17" y1="187.85" x2="124.77" y2="187.85" stroke="#333" stroke-width="0.9"/>
<line x1="38.80" y1="181.74" x2="40.40" y2="181.74" stroke="#333" stroke-width="0.9"/>
<line x1="123.17" y1="181.74" x2="124.77" y2="181.74" stroke="#333" stroke-width="0.9"/>
<line x1="38.80" y1="175.63" x2="40.40" y2="175.63" stroke="#333" stroke-width="0.9"/>
<line x1="123.17" y1="175.63" x2="124.77" y2="175.63" stroke="#333" stroke-width="0.9"/>
<line x1="38.80" y1="169.52" x2="40.40" y2="169.52" stroke="#333" stroke-width="0.9"/>
<line x1="123.17" y1="169.52" x2="124.77" y2="169.52" stroke="#333" stroke-width="0.9"/>
<line x1="38.80" y1="163.42" x2="40.40" y2="163.42" stroke="#333" stroke-width="0.9"/>
<line x1="123.17" y1="163.42" x2="124.77" y2="163.42" stroke="#333" stroke-width="0.9"/>
<line x1="38.80" y1="157.31" x2="40.40" y2="157.31" stroke="#333" stroke-width="0.9"/>
<line x1="123.17" y1="157.31" x2="124.77" y2="157.31" stroke="#333" stroke-width="0.9"/>
<rect x="124.77" y="151.20" width="85.97" height="109.95" fill="none" stroke="#222" stroke-width="1.15"/>
<line x1="130.91" y1="261.15" x2="130.91" y2="259.55" stroke="#333" stroke-width="0.9"/>
<line x1="130.91" y1="151.20" x2="130.91" y2="152.80" stroke="#333" stroke-width="0.9"/>
<line x1="137.05" y1="261.15" x2="137.05" y2="259.55" stroke="#333" stroke-width="0.9"/>
<line x1="137.05" y1="151.20" x2="137.05" y2="152.80" stroke="#333" stroke-width="0.9"/>
<line x1="143.19" y1="261.15" x2="143.19" y2="259.55" stroke="#333" stroke-width="0.9"/>
<line x1="143.19" y1="151.20" x2="143.19" y2="152.80" stroke="#333" stroke-width="0.9"/>
<line x1="149.33" y1="261.15" x2="149.33" y2="259.55" stroke="#333" stroke-width="0.9"/>
<line x1="149.33" y1="151.20" x2="149.33" y2="152.80" stroke="#333" stroke-width="0.9"/>
<line x1="155.48" y1="261.15" x2="155.48" y2="259.55" stroke="#333" stroke-width="0.9"/>
<line x1="155.48" y1="151.20" x2="155.48" y2="152.80" stroke="#333" stroke-width="0.9"/>
<line x1="161.62" y1="261.15" x2="161.62" y2="259.55" stroke="#333" stroke-width="0.9"/>
<line x1="161.62" y1="151.20" x2="161.62" y2="152.80" stroke="#333" stroke-width="0.9"/>
<line x1="167.76" y1="261.15" x2="167.76" y2="259.55" stroke="#333" stroke-width="0.9"/>
<line x1="167.76" y1="151.20" x2="167.76" y2="152.80" stroke="#333" stroke-width="0.9"/>
<line x1="173.90" y1="261.15" x2="173.90" y2="259.55" stroke="#333" stroke-width="0.9"/>
<line x1="173.90" y1="151.20" x2="173.90" y2="152.80" stroke="#333" stroke-width="0.9"/>
<line x1="180.04" y1="261.15" x2="180.04" y2="259.55" stroke="#333" stroke-width="0.9"/>
<line x1="180.04" y1="151.20" x2="180.04" y2="152.80" stroke="#333" stroke-width="0.9"/>
<line x1="186.18" y1="261.15" x2="186.18" y2="259.55" stroke="#333" stroke-width="0.9"/>
<line x1="186.18" y1="151.20" x2="186.18" y2="152.80" stroke="#333" stroke-width="0.9"/>
<line x1="192.32" y1="261.15" x2="192.32" y2="259.55" stroke="#333" stroke-width="0.9"/>
<line x1="192.32" y1="151.20" x2="192.32" y2="152.80" stroke="#333" stroke-width="0.9"/>
<line x1="198.46" y1="261.15" x2="198.46" y2="259.55" stroke="#333" stroke-width="0.9"/>
<line x1="198.46" y1="151.20" x2="198.46" y2="152.80" stroke="#333" stroke-width="0.9"/>
<line x1="204.60" y1="261.15" x2="204.60" y2="259.55" stroke="#333" stroke-width="0.9"/>
<line x1="204.60" y1="151.20" x2="204.60" y2="152.80" stroke="#333" stroke-width="0.9"/>
<line x1="124.77" y1="255.04" x2="126.37" y2="255.04" stroke="#333" stroke-width="0.9"/>
<line x1="209.14" y1="255.04" x2="210.74" y2="255.04" stroke="#333" stroke-width="0.9"/>
<line x1="124.77" y1="248.93" x2="126.37" y2="248.93" stroke="#333" stroke-width="0.9"/>
<line x1="209.14" y1="248.93" x2="210.74" y2="248.93" stroke="#333" stroke-width="0.9"/>
<line x1="124.77" y1="242.82" x2="126.37" y2="242.82" stroke="#333" stroke-width="0.9"/>
<line x1="209.14" y1="242.82" x2="210.74" y2="242.82" stroke="#333" stroke-width="0.9"/>
<line x1="124.77" y1="236.72" x2="126.37" y2="236.72" stroke="#333" stroke-width="0.9"/>
<line x1="209.14" y1="236.72" x2="210.74" y2="236.72" stroke="#333" stroke-width="0.9"/>
<line x1="124.77" y1="230.61" x2="126.37" y2="230.61" stroke="#333" stroke-width="0.9"/>
<line x1="209.14" y1="230.61" x2="210.74" y2="230.61" stroke="#333" stroke-width="0.9"/>
<line x1="124.77" y1="224.50" x2="126.37" y2="224.50" stroke="#333" stroke-width="0.9"/>
<line x1="209.14" y1="224.50" x2="210.74" y2="224.50" stroke="#333" stroke-width="0.9"/>
<line x1="124.77" y1="218.39" x2="126.37" y2="218.39" stroke="#333" stroke-width="0.9"/>
<line x1="209.14" y1="218.39" x2="210.74" y2="218.39" stroke="#333" stroke-width="0.9"/>
<line x1="124.77" y1="212.28" x2="126.37" y2="212.28" stroke="#333" stroke-width="0.9"/>
<line x1="209.14" y1="212.28" x2="210.74" y2="212.28" stroke="#333" stroke-width="0.9"/>
<line x1="124.77" y1="206.17" x2="126.37" y2="206.17" stroke="#333" stroke-width="0.9"/>
<line x1="209.14" y1="206.17" x2="210.74" y2="206.17" stroke="#333" stroke-width="0.9"/>
<line x1="124.77" y1="200.07" x2="126.37" y2="200.07" stroke="#333" stroke-width="0.9"/>
<line x1="209.14" y1="200.07" x2="210.74" y2="200.07" stroke="#333" stroke-width="0.9"/>
<line x1="124.77" y1="193.96" x2="126.37" y2="193.96" stroke="#333" stroke-width="0.9"/>
<line x1="209.14" y1="193.96" x2="210.74" y2="193.96" stroke="#333" stroke-width="0.9"/>
<line x1="124.77" y1="187.85" x2="126.37" y2="187.85" stroke="#333" stroke-width="0.9"/>
<line x1="209.14" y1="187.85" x2="210.74" y2="187.85" stroke="#333" stroke-width="0.9"/>
<line x1="124.77" y1="181.74" x2="126.37" y2="181.74" stroke="#333" stroke-width="0.9"/>
<line x1="209.14" y1="181.74" x2="210.74" y2="181.74" stroke="#333" stroke-width="0.9"/>
<line x1="124.77" y1="175.63" x2="126.37" y2="175.63" stroke="#333" stroke-width="0.9"/>
<line x1="209.14" y1="175.63" x2="210.74" y2="175.63" stroke="#333" stroke-width="0.9"/>
<line x1="124.77" y1="169.52" x2="126.37" y2="169.52" stroke="#333" stroke-width="0.9"/>
<line x1="209.14" y1="169.52" x2="210.74" y2="169.52" stroke="#333" stroke-width="0.9"/>
<line x1="124.77" y1="163.42" x2="126.37" y2="163.42" stroke="#333" stroke-width="0.9"/>
<line x1="209.14" y1="163.42" x2="210.74" y2="163.42" stroke="#333" stroke-width="0.9"/>
<line x1="124.77" y1="157.31" x2="126.37" y2="157.31" stroke="#333" stroke-width="0.9"/>
<line x1="209.14" y1="157.31" x2="210.74" y2="157.31" stroke="#333" stroke-width="0.9"/>
<rect x="210.74" y="151.20" width="85.97" height="109.95" fill="none" stroke="#222" stroke-width="1.15"/>
<line x1="216.88" y1="261.15" x2="216.88" y2="259.55" stroke="#333" stroke-width="0.9"/>
<line x1="216.88" y1="151.20" x2="216.88" y2="152.80" stroke="#333" stroke-width="0.9"/>
<line x1="223.02" y1="261.15" x2="223.02" y2="259.55" stroke="#333" stroke-width="0.9"/>
<line x1="223.02" y1="151.20" x2="223.02" y2="152.80" stroke="#333" stroke-width="0.9"/>
<line x1="229.17" y1="261.15" x2="229.17" y2="259.55" stroke="#333" stroke-width="0.9"/>
<line x1="229.17" y1="151.20" x2="229.17" y2="152.80" stroke="#333" stroke-width="0.9"/>
<line x1="235.31" y1="261.15" x2="235.31" y2="259.55" stroke="#333" stroke-width="0.9"/>
<line x1="235.31" y1="151.20" x2="235.31" y2="152.80" stroke="#333" stroke-width="0.9"/>
<line x1="241.45" y1="261.15" x2="241.45" y2="259.55" stroke="#333" stroke-width="0.9"/>
<line x1="241.45" y1="151.20" x2="241.45" y2="152.80" stroke="#333" stroke-width="0.9"/>
<line x1="247.59" y1="261.15" x2="247.59" y2="259.55" stroke="#333" stroke-width="0.9"/>
<line x1="247.59" y1="151.20" x2="247.59" y2="152.80" stroke="#333" stroke-width="0.9"/>
<line x1="253.73" y1="261.15" x2="253.73" y2="259.55" stroke="#333" stroke-width="0.9"/>
<line x1="253.73" y1="151.20" x2="253.73" y2="152.80" stroke="#333" stroke-width="0.9"/>
<line x1="259.87" y1="261.15" x2="259.87" y2="259.55" stroke="#333" stroke-width="0.9"/>
<line x1="259.87" y1="151.20" x2="259.87" y2="152.80" stroke="#333" stroke-width="0.9"/>
<line x1="266.01" y1="261.15" x2="266.01" y2="259.55" stroke="#333" stroke-width="0.9"/>
<line x1="266.01" y1="151.20" x2="266.01" y2="152.80" stroke="#333" stroke-width="0.9"/>
<line x1="272.15" y1="261.15" x2="272.15" y2="259.55" stroke="#333" stroke-width="0.9"/>
<line x1="272.15" y1="151.20" x2="272.15" y2="152.80" stroke="#333" stroke-width="0.9"/>
<line x1="278.29" y1="261.15" x2="278.29" y2="259.55" stroke="#333" stroke-width="0.9"/>
<line x1="278.29" y1="151.20" x2="278.29" y2="152.80" stroke="#333" stroke-width="0.9"/>
<line x1="284.43" y1="261.15" x2="284.43" y2="259.55" stroke="#333" stroke-width="0.9"/>
<line x1="284.43" y1="151.20" x2="284.43" y2="152.80" stroke="#333" stroke-width="0.9"/>
<line x1="290.57" y1="261.15" x2="290.57" y2="259.55" stroke="#333" stroke-width="0.9"/>
<line x1="290.57" y1="151.20" x2="290.57" y2="152.80" stroke="#333" stroke-width="0.9"/>
<line x1="210.74" y1="255.04" x2="212.34" y2="255.04" stroke="#333" stroke-width="0.9"/>
<line x1="295.11" y1="255.04" x2="296.71" y2="255.04" stroke="#333" stroke-width="0.9"/>
<line x1="210.74" y1="248.93" x2="212.34" y2="248.93" stroke="#333" stroke-width="0.9"/>
<line x1="295.11" y1="248.93" x2="296.71" y2="248.93" stroke="#333" stroke-width="0.9"/>
<line x1="210.74" y1="242.82" x2="212.34" y2="242.82" stroke="#333" stroke-width="0.9"/>
<line x1="295.11" y1="242.82" x2="296.71" y2="242.82" stroke="#333" stroke-width="0.9"/>
<line x1="210.74" y1="236.72" x2="212.34" y2="236.72" stroke="#333" stroke-width="0.9"/>
<line x1="295.11" y1="236.72" x2="296.71" y2="236.72" stroke="#333" stroke-width="0.9"/>
<line x1="210.74" y1="230.61" x2="212.34" y2="230.61" stroke="#333" stroke-width="0.9"/>
<line x1="295.11" y1="230.61" x2="296.71" y2="230.61" stroke="#333" stroke-width="0.9"/>
<line x1="210.74" y1="224.50" x2="212.34" y2="224.50" stroke="#333" stroke-width="0.9"/>
<line x1="295.11" y1="224.50" x2="296.71" y2="224.50" stroke="#333" stroke-width="0.9"/>
<line x1="210.74" y1="218.39" x2="212.34" y2="218.39" stroke="#333" stroke-width="0.9"/>
<line x1="295.11" y1="218.39" x2="296.71" y2="218.39" stroke="#333" stroke-width="0.9"/>
<line x1="210.74" y1="212.28" x2="212.34" y2="212.28" stroke="#333" stroke-width="0.9"/>
<line x1="295.11" y1="212.28" x2="296.71" y2="212.28" stroke="#333" stroke-width="0.9"/>
<line x1="210.74" y1="206.17" x2="212.34" y2="206.17" stroke="#333" stroke-width="0.9"/>
<line x1="295.11" y1="206.17" x2="296.71" y2="206.17" stroke="#333" stroke-width="0.9"/>
<line x1="210.74" y1="200.07" x2="212.34" y2="200.07" stroke="#333" stroke-width="0.9"/>
<line x1="295.11" y1="200.07" x2="296.71" y2="200.07" stroke="#333" stroke-width="0.9"/>
<line x1="210.74" y1="193.96" x2="212.34" y2="193.96" stroke="#333" stroke-width="0.9"/>
<line x1="295.11" y1="193.96" x2="296.71" y2="193.96" stroke="#333" stroke-width="0.9"/>
<line x1="210.74" y1="187.85" x2="212.34" y2="187.85" stroke="#333" stroke-width="0.9"/>
<line x1="295.11" y1="187.85" x2="296.71" y2="187.85" stroke="#333" stroke-width="0.9"/>
<line x1="210.74" y1="181.74" x2="212.34" y2="181.74" stroke="#333" stroke-width="0.9"/>
<line x1="295.11" y1="181.74" x2="296.71" y2="181.74" stroke="#333" stroke-width="0.9"/>
<line x1="210.74" y1="175.63" x2="212.34" y2="175.63" stroke="#333" stroke-width="0.9"/>
<line x1="295.11" y1="175.63" x2="296.71" y2="175.63" stroke="#333" stroke-width="0.9"/>
<line x1="210.74" y1="169.52" x2="212.34" y2="169.52" stroke="#333" stroke-width="0.9"/>
<line x1="295.11" y1="169.52" x2="296.71" y2="169.52" stroke="#333" stroke-width="0.9"/>
<line x1="210.74" y1="163.42" x2="212.34" y2="163.42" stroke="#333" stroke-width="0.9"/>
<line x1="295.11" y1="163.42" x2="296.71" y2="163.42" stroke="#333" stroke-width="0.9"/>
<line x1="210.74" y1="157.31" x2="212.34" y2="157.31" stroke="#333" stroke-width="0.9"/>
<line x1="295.11" y1="157.31" x2="296.71" y2="157.31" stroke="#333" stroke-width="0.9"/>
<rect x="296.71" y="151.20" width="85.97" height="109.95" fill="none" stroke="#222" stroke-width="1.15"/>
<line x1="302.86" y1="261.15" x2="302.86" y2="259.55" stroke="#333" stroke-width="0.9"/>
<line x1="302.86" y1="151.20" x2="302.86" y2="152.80" stroke="#333" stroke-width="0.9"/>
<line x1="309.00" y1="261.15" x2="309.00" y2="259.55" stroke="#333" stroke-width="0.9"/>
<line x1="309.00" y1="151.20" x2="309.00" y2="152.80" stroke="#333" stroke-width="0.9"/>
<line x1="315.14" y1="261.15" x2="315.14" y2="259.55" stroke="#333" stroke-width="0.9"/>
<line x1="315.14" y1="151.20" x2="315.14" y2="152.80" stroke="#333" stroke-width="0.9"/>
<line x1="321.28" y1="261.15" x2="321.28" y2="259.55" stroke="#333" stroke-width="0.9"/>
<line x1="321.28" y1="151.20" x2="321.28" y2="152.80" stroke="#333" stroke-width="0.9"/>
<line x1="327.42" y1="261.15" x2="327.42" y2="259.55" stroke="#333" stroke-width="0.9"/>
<line x1="327.42" y1="151.20" x2="327.42" y2="152.80" stroke="#333" stroke-width="0.9"/>
<line x1="333.56" y1="261.15" x2="333.56" y2="259.55" stroke="#333" stroke-width="0.9"/>
<line x1="333.56" y1="151.20" x2="333.56" y2="152.80" stroke="#333" stroke-width="0.9"/>
<line x1="339.70" y1="261.15" x2="339.70" y2="259.55" stroke="#333" stroke-width="0.9"/>
<line x1="339.70" y1="151.20" x2="339.70" y2="152.80" stroke="#333" stroke-width="0.9"/>
<line x1="345.84" y1="261.15" x2="345.84" y2="259.55" stroke="#333" stroke-width="0.9"/>
<line x1="345.84" y1="151.20" x2="345.84" y2="152.80" stroke="#333" stroke-width="0.9"/>
<line x1="351.98" y1="261.15" x2="351.98" y2="259.55" stroke="#333" stroke-width="0.9"/>
<line x1="351.98" y1="151.20" x2="351.98" y2="152.80" stroke="#333" stroke-width="0.9"/>
<line x1="358.12" y1="261.15" x2="358.12" y2="259.55" stroke="#333" stroke-width="0.9"/>
<line x1="358.12" y1="151.20" x2="358.12" y2="152.80" stroke="#333" stroke-width="0.9"/>
<line x1="364.26" y1="261.15" x2="364.26" y2="259.55" stroke="#333" stroke-width="0.9"/>
<line x1="364.26" y1="151.20" x2="364.26" y2="152.80" stroke="#333" stroke-width="0.9"/>
<line x1="370.40" y1="261.15" x2="370.40" y2="259.55" stroke="#333" stroke-width="0.9"/>
<line x1="370.40" y1="151.20" x2="370.40" y2="152.80" stroke="#333" stroke-width="0.9"/>
<line x1="376.54" y1="261.15" x2="376.54" y2="259.55" stroke="#333" stroke-width="0.9"/>
<line x1="376.54" y1="151.20" x2="376.54" y2="152.80" stroke="#333" stroke-width="0.9"/>
<line x1="296.71" y1="255.04" x2="298.31" y2="255.04" stroke="#333" stroke-width="0.9"/>
<line x1="381.09" y1="255.04" x2="382.69" y2="255.04" stroke="#333" stroke-width="0.9"/>
<line x1="296.71" y1="248.93" x2="298.31" y2="248.93" stroke="#333" stroke-width="0.9"/>
<line x1="381.09" y1="248.93" x2="382.69" y2="248.93" stroke="#333" stroke-width="0.9"/>
<line x1="296.71" y1="242.82" x2="298.31" y2="242.82" stroke="#333" stroke-width="0.9"/>
<line x1="381.09" y1="242.82" x2="382.69" y2="242.82" stroke="#333" stroke-width="0.9"/>
<line x1="296.71" y1="236.72" x2="298.31" y2="236.72" stroke="#333" stroke-width="0.9"/>
<line x1="381.09" y1="236.72" x2="382.69" y2="236.72" stroke="#333" stroke-width="0.9"/>
<line x1="296.71" y1="230.61" x2="298.31" y2="230.61" stroke="#333" stroke-width="0.9"/>
<line x1="381.09" y1="230.61" x2="382.69" y2="230.61" stroke="#333" stroke-width="0.9"/>
<line x1="296.71" y1="224.50" x2="298.31" y2="224.50" stroke="#333" stroke-width="0.9"/>
<line x1="381.09" y1="224.50" x2="382.69" y2="224.50" stroke="#333" stroke-width="0.9"/>
<line x1="296.71" y1="218.39" x2="298.31" y2="218.39" stroke="#333" stroke-width="0.9"/>
<line x1="381.09" y1="218.39" x2="382.69" y2="218.39" stroke="#333" stroke-width="0.9"/>
<line x1="296.71" y1="212.28" x2="298.31" y2="212.28" stroke="#333" stroke-width="0.9"/>
<line x1="381.09" y1="212.28" x2="382.69" y2="212.28" stroke="#333" stroke-width="0.9"/>
<line x1="296.71" y1="206.17" x2="298.31" y2="206.17" stroke="#333" stroke-width="0.9"/>
<line x1="381.09" y1="206.17" x2="382.69" y2="206.17" stroke="#333" stroke-width="0.9"/>
<line x1="296.71" y1="200.07" x2="298.31" y2="200.07" stroke="#333" stroke-width="0.9"/>
<line x1="381.09" y1="200.07" x2="382.69" y2="200.07" stroke="#333" stroke-width="0.9"/>
<line x1="296.71" y1="193.96" x2="298.31" y2="193.96" stroke="#333" stroke-width="0.9"/>
<line x1="381.09" y1="193.96" x2="382.69" y2="193.96" stroke="#333" stroke-width="0.9"/>
<line x1="296.71" y1="187.85" x2="298.31" y2="187.85" stroke="#333" stroke-width="0.9"/>
<line x1="381.09" y1="187.85" x2="382.69" y2="187.85" stroke="#333" stroke-width="0.9"/>
<line x1="296.71" y1="181.74" x2="298.31" y2="181.74" stroke="#333" stroke-width="0.9"/>
<line x1="381.09" y1="181.74" x2="382.69" y2="181.74" stroke="#333" stroke-width="0.9"/>
<line x1="296.71" y1="175.63" x2="298.31" y2="175.63" stroke="#333" stroke-width="0.9"/>
<line x1="381.09" y1="175.63" x2="382.69" y2="175.63" stroke="#333" stroke-width="0.9"/>
<line x1="296.71" y1="169.52" x2="298.31" y2="169.52" stroke="#333" stroke-width="0.9"/>
<line x1="381.09" y1="169.52" x2="382.69" y2="169.52" stroke="#333" stroke-width="0.9"/>
<line x1="296.71" y1="163.42" x2="298.31" y2="163.42" stroke="#333" stroke-width="0.9"/>
<line x1="381.09" y1="163.42" x2="382.69" y2="163.42" stroke="#333" stroke-width="0.9"/>
<line x1="296.71" y1="157.31" x2="298.31" y2="157.31" stroke="#333" stroke-width="0.9"/>
<line x1="381.09" y1="157.31" x2="382.69" y2="157.31" stroke="#333" stroke-width="0.9"/>
<rect x="382.69" y="151.20" width="85.97" height="109.95" fill="none" stroke="#222" stroke-width="1.15"/>
<line x1="388.83" y1="261.15" x2="388.83" y2="259.55" stroke="#333" stroke-width="0.9"/>
<line x1="388.83" y1="151.20" x2="388.83" y2="152.80" stroke="#333" stroke-width="0.9"/>
<line x1="394.97" y1="261.15" x2="394.97" y2="259.55" stroke="#333" stroke-width="0.9"/>
<line x1="394.97" y1="151.20" x2="394.97" y2="152.80" stroke="#333" stroke-width="0.9"/>
<line x1="401.11" y1="261.15" x2="401.11" y2="259.55" stroke="#333" stroke-width="0.9"/>
<line x1="401.11" y1="151.20" x2="401.11" y2="152.80" stroke="#333" stroke-width="0.9"/>
<line x1="407.25" y1="261.15" x2="407.25" y2="259.55" stroke="#333" stroke-width="0.9"/>
<line x1="407.25" y1="151.20" x2="407.25" y2="152.80" stroke="#333" stroke-width="0.9"/>
<line x1="413.39" y1="261.15" x2="413.39" y2="259.55" stroke="#333" stroke-width="0.9"/>
<line x1="413.39" y1="151.20" x2="413.39" y2="152.80" stroke="#333" stroke-width="0.9"/>
<line x1="419.53" y1="261.15" x2="419.53" y2="259.55" stroke="#333" stroke-width="0.9"/>
<line x1="419.53" y1="151.20" x2="419.53" y2="152.80" stroke="#333" stroke-width="0.9"/>
<line x1="425.67" y1="261.15" x2="425.67" y2="259.55" stroke="#333" stroke-width="0.9"/>
<line x1="425.67" y1="151.20" x2="425.67" y2="152.80" stroke="#333" stroke-width="0.9"/>
<line x1="431.81" y1="261.15" x2="431.81" y2="259.55" stroke="#333" stroke-width="0.9"/>
<line x1="431.81" y1="151.20" x2="431.81" y2="152.80" stroke="#333" stroke-width="0.9"/>
<line x1="437.95" y1="261.15" x2="437.95" y2="259.55" stroke="#333" stroke-width="0.9"/>
<line x1="437.95" y1="151.20" x2="437.95" y2="152.80" stroke="#333" stroke-width="0.9"/>
<line x1="444.09" y1="261.15" x2="444.09" y2="259.55" stroke="#333" stroke-width="0.9"/>
<line x1="444.09" y1="151.20" x2="444.09" y2="152.80" stroke="#333" stroke-width="0.9"/>
<line x1="450.23" y1="261.15" x2="450.23" y2="259.55" stroke="#333" stroke-width="0.9"/>
<line x1="450.23" y1="151.20" x2="450.23" y2="152.80" stroke="#333" stroke-width="0.9"/>
<line x1="456.38" y1="261.15" x2="456.38" y2="259.55" stroke="#333" stroke-width="0.9"/>
<line x1="456.38" y1="151.20" x2="456.38" y2="152.80" stroke="#333" stroke-width="0.9"/>
<line x1="462.52" y1="261.15" x2="462.52" y2="259.55" stroke="#333" stroke-width="0.9"/>
<line x1="462.52" y1="151.20" x2="462.52" y2="152.80" stroke="#333" stroke-width="0.9"/>
<line x1="382.69" y1="255.04" x2="384.29" y2="255.04" stroke="#333" stroke-width="0.9"/>
<line x1="467.06" y1="255.04" x2="468.66" y2="255.04" stroke="#333" stroke-width="0.9"/>
<line x1="382.69" y1="248.93" x2="384.29" y2="248.93" stroke="#333" stroke-width="0.9"/>
<line x1="467.06" y1="248.93" x2="468.66" y2="248.93" stroke="#333" stroke-width="0.9"/>
<line x1="382.69" y1="242.82" x2="384.29" y2="242.82" stroke="#333" stroke-width="0.9"/>
<line x1="467.06" y1="242.82" x2="468.66" y2="242.82" stroke="#333" stroke-width="0.9"/>
<line x1="382.69" y1="236.72" x2="384.29" y2="236.72" stroke="#333" stroke-width="0.9"/>
<line x1="467.06" y1="236.72" x2="468.66" y2="236.72" stroke="#333" stroke-width="0.9"/>
<line x1="382.69" y1="230.61" x2="384.29" y2="230.61" stroke="#333" stroke-width="0.9"/>
<line x1="467.06" y1="230.61" x2="468.66" y2="230.61" stroke="#333" stroke-width="0.9"/>
<line x1="382.69" y1="224.50" x2="384.29" y2="224.50" stroke="#333" stroke-width="0.9"/>
<line x1="467.06" y1="224.50" x2="468.66" y2="224.50" stroke="#333" stroke-width="0.9"/>
<line x1="382.69" y1="218.39" x2="384.29" y2="218.39" stroke="#333" stroke-width="0.9"/>
<line x1="467.06" y1="218.39" x2="468.66" y2="218.39" stroke="#333" stroke-width="0.9"/>
<line x1="382.69" y1="212.28" x2="384.29" y2="212.28" stroke="#333" stroke-width="0.9"/>
<line x1="467.06" y1="212.28" x2="468.66" y2="212.28" stroke="#333" stroke-width="0.9"/>
<line x1="382.69" y1="206.17" x2="384.29" y2="206.17" stroke="#333" stroke-width="0.9"/>
<line x1="467.06" y1="206.17" x2="468.66" y2="206.17" stroke="#333" stroke-width="0.9"/>
<line x1="382.69" y1="200.07" x2="384.29" y2="200.07" stroke="#333" stroke-width="0.9"/>
<line x1="467.06" y1="200.07" x2="468.66" y2="200.07" stroke="#333" stroke-width="0.9"/>
<line x1="382.69" y1="193.96" x2="384.29" y2="193.96" stroke="#333" stroke-width="0.9"/>
<line x1="467.06" y1="193.96" x2="468.66" y2="193.96" stroke="#333" stroke-width="0.9"/>
<line x1="382.69" y1="187.85" x2="384.29" y2="187.85" stroke="#333" stroke-width="0.9"/>
<line x1="467.06" y1="187.85" x2="468.66" y2="187.85" stroke="#333" stroke-width="0.9"/>
<line x1="382.69" y1="181.74" x2="384.29" y2="181.74" stroke="#333" stroke-width="0.9"/>
<line x1="467.06" y1="181.74" x2="468.66" y2="181.74" stroke="#333" stroke-width="0.9"/>
<line x1="382.69" y1="175.63" x2="384.29" y2="175.63" stroke="#333" stroke-width="0.9"/>
<line x1="467.06" y1="175.63" x2="468.66" y2="175.63" stroke="#333" stroke-width="0.9"/>
<line x1="382.69" y1="169.52" x2="384.29" y2="169.52" stroke="#333" stroke-width="0.9"/>
<line x1="467.06" y1="169.52" x2="468.66" y2="169.52" stroke="#333" stroke-width="0.9"/>
<line x1="382.69" y1="163.42" x2="384.29" y2="163.42" stroke="#333" stroke-width="0.9"/>
<line x1="467.06" y1="163.42" x2="468.66" y2="163.42" stroke="#333" stroke-width="0.9"/>
<line x1="382.69" y1="157.31" x2="384.29" y2="157.31" stroke="#333" stroke-width="0.9"/>
<line x1="467.06" y1="157.31" x2="468.66" y2="157.31" stroke="#333" stroke-width="0.9"/>
<rect x="468.66" y="151.20" width="85.97" height="109.95" fill="none" stroke="#222" stroke-width="1.15"/>
<line x1="474.80" y1="261.15" x2="474.80" y2="259.55" stroke="#333" stroke-width="0.9"/>
<line x1="474.80" y1="151.20" x2="474.80" y2="152.80" stroke="#333" stroke-width="0.9"/>
<line x1="480.94" y1="261.15" x2="480.94" y2="259.55" stroke="#333" stroke-width="0.9"/>
<line x1="480.94" y1="151.20" x2="480.94" y2="152.80" stroke="#333" stroke-width="0.9"/>
<line x1="487.08" y1="261.15" x2="487.08" y2="259.55" stroke="#333" stroke-width="0.9"/>
<line x1="487.08" y1="151.20" x2="487.08" y2="152.80" stroke="#333" stroke-width="0.9"/>
<line x1="493.22" y1="261.15" x2="493.22" y2="259.55" stroke="#333" stroke-width="0.9"/>
<line x1="493.22" y1="151.20" x2="493.22" y2="152.80" stroke="#333" stroke-width="0.9"/>
<line x1="499.36" y1="261.15" x2="499.36" y2="259.55" stroke="#333" stroke-width="0.9"/>
<line x1="499.36" y1="151.20" x2="499.36" y2="152.80" stroke="#333" stroke-width="0.9"/>
<line x1="505.50" y1="261.15" x2="505.50" y2="259.55" stroke="#333" stroke-width="0.9"/>
<line x1="505.50" y1="151.20" x2="505.50" y2="152.80" stroke="#333" stroke-width="0.9"/>
<line x1="511.64" y1="261.15" x2="511.64" y2="259.55" stroke="#333" stroke-width="0.9"/>
<line x1="511.64" y1="151.20" x2="511.64" y2="152.80" stroke="#333" stroke-width="0.9"/>
<line x1="517.78" y1="261.15" x2="517.78" y2="259.55" stroke="#333" stroke-width="0.9"/>
<line x1="517.78" y1="151.20" x2="517.78" y2="152.80" stroke="#333" stroke-width="0.9"/>
<line x1="523.92" y1="261.15" x2="523.92" y2="259.55" stroke="#333" stroke-width="0.9"/>
<line x1="523.92" y1="151.20" x2="523.92" y2="152.80" stroke="#333" stroke-width="0.9"/>
<line x1="530.07" y1="261.15" x2="530.07" y2="259.55" stroke="#333" stroke-width="0.9"/>
<line x1="530.07" y1="151.20" x2="530.07" y2="152.80" stroke="#333" stroke-width="0.9"/>
<line x1="536.21" y1="261.15" x2="536.21" y2="259.55" stroke="#333" stroke-width="0.9"/>
<line x1="536.21" y1="151.20" x2="536.21" y2="152.80" stroke="#333" stroke-width="0.9"/>
<line x1="542.35" y1="261.15" x2="542.35" y2="259.55" stroke="#333" stroke-width="0.9"/>
<line x1="542.35" y1="151.20" x2="542.35" y2="152.80" stroke="#333" stroke-width="0.9"/>
<line x1="548.49" y1="261.15" x2="548.49" y2="259.55" stroke="#333" stroke-width="0.9"/>
<line x1="548.49" y1="151.20" x2="548.49" y2="152.80" stroke="#333" stroke-width="0.9"/>
<line x1="468.66" y1="255.04" x2="470.26" y2="255.04" stroke="#333" stroke-width="0.9"/>
<line x1="553.03" y1="255.04" x2="554.63" y2="255.04" stroke="#333" stroke-width="0.9"/>
<line x1="468.66" y1="248.93" x2="470.26" y2="248.93" stroke="#333" stroke-width="0.9"/>
<line x1="553.03" y1="248.93" x2="554.63" y2="248.93" stroke="#333" stroke-width="0.9"/>
<line x1="468.66" y1="242.82" x2="470.26" y2="242.82" stroke="#333" stroke-width="0.9"/>
<line x1="553.03" y1="242.82" x2="554.63" y2="242.82" stroke="#333" stroke-width="0.9"/>
<line x1="468.66" y1="236.72" x2="470.26" y2="236.72" stroke="#333" stroke-width="0.9"/>
<line x1="553.03" y1="236.72" x2="554.63" y2="236.72" stroke="#333" stroke-width="0.9"/>
<line x1="468.66" y1="230.61" x2="470.26" y2="230.61" stroke="#333" stroke-width="0.9"/>
<line x1="553.03" y1="230.61" x2="554.63" y2="230.61" stroke="#333" stroke-width="0.9"/>
<line x1="468.66" y1="224.50" x2="470.26" y2="224.50" stroke="#333" stroke-width="0.9"/>
<line x1="553.03" y1="224.50" x2="554.63" y2="224.50" stroke="#333" stroke-width="0.9"/>
<line x1="468.66" y1="218.39" x2="470.26" y2="218.39" stroke="#333" stroke-width="0.9"/>
<line x1="553.03" y1="218.39" x2="554.63" y2="218.39" stroke="#333" stroke-width="0.9"/>
<line x1="468.66" y1="212.28" x2="470.26" y2="212.28" stroke="#333" stroke-width="0.9"/>
<line x1="553.03" y1="212.28" x2="554.63" y2="212.28" stroke="#333" stroke-width="0.9"/>
<line x1="468.66" y1="206.17" x2="470.26" y2="206.17" stroke="#333" stroke-width="0.9"/>
<line x1="553.03" y1="206.17" x2="554.63" y2="206.17" stroke="#333" stroke-width="0.9"/>
<line x1="468.66" y1="200.07" x2="470.26" y2="200.07" stroke="#333" stroke-width="0.9"/>
<line x1="553.03" y1="200.07" x2="554.63" y2="200.07" stroke="#333" stroke-width="0.9"/>
<line x1="468.66" y1="193.96" x2="470.26" y2="193.96" stroke="#333" stroke-width="0.9"/>
<line x1="553.03" y1="193.96" x2="554.63" y2="193.96" stroke="#333" stroke-width="0.9"/>
<line x1="468.66" y1="187.85" x2="470.26" y2="187.85" stroke="#333" stroke-width="0.9"/>
<line x1="553.03" y1="187.85" x2="554.63" y2="187.85" stroke="#333" stroke-width="0.9"/>
<line x1="468.66" y1="181.74" x2="470.26" y2="181.74" stroke="#333" stroke-width="0.9"/>
<line x1="553.03" y1="181.74" x2="554.63" y2="181.74" stroke="#333" stroke-width="0.9"/>
<line x1="468.66" y1="175.63" x2="470.26" y2="175.63" stroke="#333" stroke-width="0.9"/>
<line x1="553.03" y1="175.63" x2="554.63" y2="175.63" stroke="#333" stroke-width="0.9"/>
<line x1="468.66" y1="169.52" x2="470.26" y2="169.52" stroke="#333" stroke-width="0.9"/>
<line x1="553.03" y1="169.52" x2="554.63" y2="169.52" stroke="#333" stroke-width="0.9"/>
<line x1="468.66" y1="163.42" x2="470.26" y2="163.42" stroke="#333" stroke-width="0.9"/>
<line x1="553.03" y1="163.42" x2="554.63" y2="163.42" stroke="#333" stroke-width="0.9"/>
<line x1="468.66" y1="157.31" x2="470.26" y2="157.31" stroke="#333" stroke-width="0.9"/>
<line x1="553.03" y1="157.31" x2="554.63" y2="157.31" stroke="#333" stroke-width="0.9"/>
<rect x="554.63" y="151.20" width="85.97" height="109.95" fill="none" stroke="#222" stroke-width="1.15"/>
<line x1="560.77" y1="261.15" x2="560.77" y2="259.55" stroke="#333" stroke-width="0.9"/>
<line x1="560.77" y1="151.20" x2="560.77" y2="152.80" stroke="#333" stroke-width="0.9"/>
<line x1="566.91" y1="261.15" x2="566.91" y2="259.55" stroke="#333" stroke-width="0.9"/>
<line x1="566.91" y1="151.20" x2="566.91" y2="152.80" stroke="#333" stroke-width="0.9"/>
<line x1="573.05" y1="261.15" x2="573.05" y2="259.55" stroke="#333" stroke-width="0.9"/>
<line x1="573.05" y1="151.20" x2="573.05" y2="152.80" stroke="#333" stroke-width="0.9"/>
<line x1="579.19" y1="261.15" x2="579.19" y2="259.55" stroke="#333" stroke-width="0.9"/>
<line x1="579.19" y1="151.20" x2="579.19" y2="152.80" stroke="#333" stroke-width="0.9"/>
<line x1="585.33" y1="261.15" x2="585.33" y2="259.55" stroke="#333" stroke-width="0.9"/>
<line x1="585.33" y1="151.20" x2="585.33" y2="152.80" stroke="#333" stroke-width="0.9"/>
<line x1="591.47" y1="261.15" x2="591.47" y2="259.55" stroke="#333" stroke-width="0.9"/>
<line x1="591.47" y1="151.20" x2="591.47" y2="152.80" stroke="#333" stroke-width="0.9"/>
<line x1="597.61" y1="261.15" x2="597.61" y2="259.55" stroke="#333" stroke-width="0.9"/>
<line x1="597.61" y1="151.20" x2="597.61" y2="152.80" stroke="#333" stroke-width="0.9"/>
<line x1="603.76" y1="261.15" x2="603.76" y2="259.55" stroke="#333" stroke-width="0.9"/>
<line x1="603.76" y1="151.20" x2="603.76" y2="152.80" stroke="#333" stroke-width="0.9"/>
<line x1="609.90" y1="261.15" x2="609.90" y2="259.55" stroke="#333" stroke-width="0.9"/>
<line x1="609.90" y1="151.20" x2="609.90" y2="152.80" stroke="#333" stroke-width="0.9"/>
<line x1="616.04" y1="261.15" x2="616.04" y2="259.55" stroke="#333" stroke-width="0.9"/>
<line x1="616.04" y1="151.20" x2="616.04" y2="152.80" stroke="#333" stroke-width="0.9"/>
<line x1="622.18" y1="261.15" x2="622.18" y2="259.55" stroke="#333" stroke-width="0.9"/>
<line x1="622.18" y1="151.20" x2="622.18" y2="152.80" stroke="#333" stroke-width="0.9"/>
<line x1="628.32" y1="261.15" x2="628.32" y2="259.55" stroke="#333" stroke-width="0.9"/>
<line x1="628.32" y1="151.20" x2="628.32" y2="152.80" stroke="#333" stroke-width="0.9"/>
<line x1="634.46" y1="261.15" x2="634.46" y2="259.55" stroke="#333" stroke-width="0.9"/>
<line x1="634.46" y1="151.20" x2="634.46" y2="152.80" stroke="#333" stroke-width="0.9"/>
<line x1="554.63" y1="255.04" x2="556.23" y2="255.04" stroke="#333" stroke-width="0.9"/>
<line x1="639.00" y1="255.04" x2="640.60" y2="255.04" stroke="#333" stroke-width="0.9"/>
<line x1="554.63" y1="248.93" x2="556.23" y2="248.93" stroke="#333" stroke-width="0.9"/>
<line x1="639.00" y1="248.93" x2="640.60" y2="248.93" stroke="#333" stroke-width="0.9"/>
<line x1="554.63" y1="242.82" x2="556.23" y2="242.82" stroke="#333" stroke-width="0.9"/>
<line x1="639.00" y1="242.82" x2="640.60" y2="242.82" stroke="#333" stroke-width="0.9"/>
<line x1="554.63" y1="236.72" x2="556.23" y2="236.72" stroke="#333" stroke-width="0.9"/>
<line x1="639.00" y1="236.72" x2="640.60" y2="236.72" stroke="#333" stroke-width="0.9"/>
<line x1="554.63" y1="230.61" x2="556.23" y2="230.61" stroke="#333" stroke-width="0.9"/>
<line x1="639.00" y1="230.61" x2="640.60" y2="230.61" stroke="#333" stroke-width="0.9"/>
<line x1="554.63" y1="224.50" x2="556.23" y2="224.50" stroke="#333" stroke-width="0.9"/>
<line x1="639.00" y1="224.50" x2="640.60" y2="224.50" stroke="#333" stroke-width="0.9"/>
<line x1="554.63" y1="218.39" x2="556.23" y2="218.39" stroke="#333" stroke-width="0.9"/>
<line x1="639.00" y1="218.39" x2="640.60" y2="218.39" stroke="#333" stroke-width="0.9"/>
<line x1="554.63" y1="212.28" x2="556.23" y2="212.28" stroke="#333" stroke-width="0.9"/>
<line x1="639.00" y1="212.28" x2="640.60" y2="212.28" stroke="#333" stroke-width="0.9"/>
<line x1="554.63" y1="206.17" x2="556.23" y2="206.17" stroke="#333" stroke-width="0.9"/>
<line x1="639.00" y1="206.17" x2="640.60" y2="206.17" stroke="#333" stroke-width="0.9"/>
<line x1="554.63" y1="200.07" x2="556.23" y2="200.07" stroke="#333" stroke-width="0.9"/>
<line x1="639.00" y1="200.07" x2="640.60" y2="200.07" stroke="#333" stroke-width="0.9"/>
<line x1="554.63" y1="193.96" x2="556.23" y2="193.96" stroke="#333" stroke-width="0.9"/>
<line x1="639.00" y1="193.96" x2="640.60" y2="193.96" stroke="#333" stroke-width="0.9"/>
<line x1="554.63" y1="187.85" x2="556.23" y2="187.85" stroke="#333" stroke-width="0.9"/>
<line x1="639.00" y1="187.85" x2="640.60" y2="187.85" stroke="#333" stroke-width="0.9"/>
<line x1="554.63" y1="181.74" x2="556.23" y2="181.74" stroke="#333" stroke-width="0.9"/>
<line x1="639.00" y1="181.74" x2="640.60" y2="181.74" stroke="#333" stroke-width="0.9"/>
<line x1="554.63" y1="175.63" x2="556.23" y2="175.63" stroke="#333" stroke-width="0.9"/>
<line x1="639.00" y1="175.63" x2="640.60" y2="175.63" stroke="#333" stroke-width="0.9"/>
<line x1="554.63" y1="169.52" x2="556.23" y2="169.52" stroke="#333" stroke-width="0.9"/>
<line x1="639.00" y1="169.52" x2="640.60" y2="169.52" stroke="#333" stroke-width="0.9"/>
<line x1="554.63" y1="163.42" x2="556.23" y2="163.42" stroke="#333" stroke-width="0.9"/>
<line x1="639.00" y1="163.42" x2="640.60" y2="163.42" stroke="#333" stroke-width="0.9"/>
<line x1="554.63" y1="157.31" x2="556.23" y2="157.31" stroke="#333" stroke-width="0.9"/>
<line x1="639.00" y1="157.31" x2="640.60" y2="157.31" stroke="#333" stroke-width="0.9"/>
<text x="34.20" y="184.04" font-size="6.6" text-anchor="end" fill="#333" >5</text>
<text x="34.20" y="214.58" font-size="6.6" text-anchor="end" fill="#333" >0</text>
<text x="34.20" y="245.12" font-size="6.6" text-anchor="end" fill="#333" >-5</text>
<rect x="38.80" y="261.15" width="85.97" height="109.95" fill="none" stroke="#222" stroke-width="1.15"/>
<line x1="44.94" y1="371.10" x2="44.94" y2="369.50" stroke="#333" stroke-width="0.9"/>
<line x1="44.94" y1="261.15" x2="44.94" y2="262.75" stroke="#333" stroke-width="0.9"/>
<line x1="51.08" y1="371.10" x2="51.08" y2="369.50" stroke="#333" stroke-width="0.9"/>
<line x1="51.08" y1="261.15" x2="51.08" y2="262.75" stroke="#333" stroke-width="0.9"/>
<line x1="57.22" y1="371.10" x2="57.22" y2="369.50" stroke="#333" stroke-width="0.9"/>
<line x1="57.22" y1="261.15" x2="57.22" y2="262.75" stroke="#333" stroke-width="0.9"/>
<line x1="63.36" y1="371.10" x2="63.36" y2="369.50" stroke="#333" stroke-width="0.9"/>
<line x1="63.36" y1="261.15" x2="63.36" y2="262.75" stroke="#333" stroke-width="0.9"/>
<line x1="69.50" y1="371.10" x2="69.50" y2="369.50" stroke="#333" stroke-width="0.9"/>
<line x1="69.50" y1="261.15" x2="69.50" y2="262.75" stroke="#333" stroke-width="0.9"/>
<line x1="75.64" y1="371.10" x2="75.64" y2="369.50" stroke="#333" stroke-width="0.9"/>
<line x1="75.64" y1="261.15" x2="75.64" y2="262.75" stroke="#333" stroke-width="0.9"/>
<line x1="81.79" y1="371.10" x2="81.79" y2="369.50" stroke="#333" stroke-width="0.9"/>
<line x1="81.79" y1="261.15" x2="81.79" y2="262.75" stroke="#333" stroke-width="0.9"/>
<line x1="87.93" y1="371.10" x2="87.93" y2="369.50" stroke="#333" stroke-width="0.9"/>
<line x1="87.93" y1="261.15" x2="87.93" y2="262.75" stroke="#333" stroke-width="0.9"/>
<line x1="94.07" y1="371.10" x2="94.07" y2="369.50" stroke="#333" stroke-width="0.9"/>
<line x1="94.07" y1="261.15" x2="94.07" y2="262.75" stroke="#333" stroke-width="0.9"/>
<line x1="100.21" y1="371.10" x2="100.21" y2="369.50" stroke="#333" stroke-width="0.9"/>
<line x1="100.21" y1="261.15" x2="100.21" y2="262.75" stroke="#333" stroke-width="0.9"/>
<line x1="106.35" y1="371.10" x2="106.35" y2="369.50" stroke="#333" stroke-width="0.9"/>
<line x1="106.35" y1="261.15" x2="106.35" y2="262.75" stroke="#333" stroke-width="0.9"/>
<line x1="112.49" y1="371.10" x2="112.49" y2="369.50" stroke="#333" stroke-width="0.9"/>
<line x1="112.49" y1="261.15" x2="112.49" y2="262.75" stroke="#333" stroke-width="0.9"/>
<line x1="118.63" y1="371.10" x2="118.63" y2="369.50" stroke="#333" stroke-width="0.9"/>
<line x1="118.63" y1="261.15" x2="118.63" y2="262.75" stroke="#333" stroke-width="0.9"/>
<line x1="38.80" y1="364.99" x2="40.40" y2="364.99" stroke="#333" stroke-width="0.9"/>
<line x1="123.17" y1="364.99" x2="124.77" y2="364.99" stroke="#333" stroke-width="0.9"/>
<line x1="38.80" y1="358.88" x2="40.40" y2="358.88" stroke="#333" stroke-width="0.9"/>
<line x1="123.17" y1="358.88" x2="124.77" y2="358.88" stroke="#333" stroke-width="0.9"/>
<line x1="38.80" y1="352.77" x2="40.40" y2="352.77" stroke="#333" stroke-width="0.9"/>
<line x1="123.17" y1="352.77" x2="124.77" y2="352.77" stroke="#333" stroke-width="0.9"/>
<line x1="38.80" y1="346.67" x2="40.40" y2="346.67" stroke="#333" stroke-width="0.9"/>
<line x1="123.17" y1="346.67" x2="124.77" y2="346.67" stroke="#333" stroke-width="0.9"/>
<line x1="38.80" y1="340.56" x2="40.40" y2="340.56" stroke="#333" stroke-width="0.9"/>
<line x1="123.17" y1="340.56" x2="124.77" y2="340.56" stroke="#333" stroke-width="0.9"/>
<line x1="38.80" y1="334.45" x2="40.40" y2="334.45" stroke="#333" stroke-width="0.9"/>
<line x1="123.17" y1="334.45" x2="124.77" y2="334.45" stroke="#333" stroke-width="0.9"/>
<line x1="38.80" y1="328.34" x2="40.40" y2="328.34" stroke="#333" stroke-width="0.9"/>
<line x1="123.17" y1="328.34" x2="124.77" y2="328.34" stroke="#333" stroke-width="0.9"/>
<line x1="38.80" y1="322.23" x2="40.40" y2="322.23" stroke="#333" stroke-width="0.9"/>
<line x1="123.17" y1="322.23" x2="124.77" y2="322.23" stroke="#333" stroke-width="0.9"/>
<line x1="38.80" y1="316.12" x2="40.40" y2="316.12" stroke="#333" stroke-width="0.9"/>
<line x1="123.17" y1="316.12" x2="124.77" y2="316.12" stroke="#333" stroke-width="0.9"/>
<line x1="38.80" y1="310.02" x2="40.40" y2="310.02" stroke="#333" stroke-width="0.9"/>
<line x1="123.17" y1="310.02" x2="124.77" y2="310.02" stroke="#333" stroke-width="0.9"/>
<line x1="38.80" y1="303.91" x2="40.40" y2="303.91" stroke="#333" stroke-width="0.9"/>
<line x1="123.17" y1="303.91" x2="124.77" y2="303.91" stroke="#333" stroke-width="0.9"/>
<line x1="38.80" y1="297.80" x2="40.40" y2="297.80" stroke="#333" stroke-width="0.9"/>
<line x1="123.17" y1="297.80" x2="124.77" y2="297.80" stroke="#333" stroke-width="0.9"/>
<line x1="38.80" y1="291.69" x2="40.40" y2="291.69" stroke="#333" stroke-width="0.9"/>
<line x1="123.17" y1="291.69" x2="124.77" y2="291.69" stroke="#333" stroke-width="0.9"/>
<line x1="38.80" y1="285.58" x2="40.40" y2="285.58" stroke="#333" stroke-width="0.9"/>
<line x1="123.17" y1="285.58" x2="124.77" y2="285.58" stroke="#333" stroke-width="0.9"/>
<line x1="38.80" y1="279.47" x2="40.40" y2="279.47" stroke="#333" stroke-width="0.9"/>
<line x1="123.17" y1="279.47" x2="124.77" y2="279.47" stroke="#333" stroke-width="0.9"/>
<line x1="38.80" y1="273.37" x2="40.40" y2="273.37" stroke="#333" stroke-width="0.9"/>
<line x1="123.17" y1="273.37" x2="124.77" y2="273.37" stroke="#333" stroke-width="0.9"/>
<line x1="38.80" y1="267.26" x2="40.40" y2="267.26" stroke="#333" stroke-width="0.9"/>
<line x1="123.17" y1="267.26" x2="124.77" y2="267.26" stroke="#333" stroke-width="0.9"/>
<rect x="124.77" y="261.15" width="85.97" height="109.95" fill="none" stroke="#222" stroke-width="1.15"/>
<line x1="130.91" y1="371.10" x2="130.91" y2="369.50" stroke="#333" stroke-width="0.9"/>
<line x1="130.91" y1="261.15" x2="130.91" y2="262.75" stroke="#333" stroke-width="0.9"/>
<line x1="137.05" y1="371.10" x2="137.05" y2="369.50" stroke="#333" stroke-width="0.9"/>
<line x1="137.05" y1="261.15" x2="137.05" y2="262.75" stroke="#333" stroke-width="0.9"/>
<line x1="143.19" y1="371.10" x2="143.19" y2="369.50" stroke="#333" stroke-width="0.9"/>
<line x1="143.19" y1="261.15" x2="143.19" y2="262.75" stroke="#333" stroke-width="0.9"/>
<line x1="149.33" y1="371.10" x2="149.33" y2="369.50" stroke="#333" stroke-width="0.9"/>
<line x1="149.33" y1="261.15" x2="149.33" y2="262.75" stroke="#333" stroke-width="0.9"/>
<line x1="155.48" y1="371.10" x2="155.48" y2="369.50" stroke="#333" stroke-width="0.9"/>
<line x1="155.48" y1="261.15" x2="155.48" y2="262.75" stroke="#333" stroke-width="0.9"/>
<line x1="161.62" y1="371.10" x2="161.62" y2="369.50" stroke="#333" stroke-width="0.9"/>
<line x1="161.62" y1="261.15" x2="161.62" y2="262.75" stroke="#333" stroke-width="0.9"/>
<line x1="167.76" y1="371.10" x2="167.76" y2="369.50" stroke="#333" stroke-width="0.9"/>
<line x1="167.76" y1="261.15" x2="167.76" y2="262.75" stroke="#333" stroke-width="0.9"/>
<line x1="173.90" y1="371.10" x2="173.90" y2="369.50" stroke="#333" stroke-width="0.9"/>
<line x1="173.90" y1="261.15" x2="173.90" y2="262.75" stroke="#333" stroke-width="0.9"/>
<line x1="180.04" y1="371.10" x2="180.04" y2="369.50" stroke="#333" stroke-width="0.9"/>
<line x1="180.04" y1="261.15" x2="180.04" y2="262.75" stroke="#333" stroke-width="0.9"/>
<line x1="186.18" y1="371.10" x2="186.18" y2="369.50" stroke="#333" stroke-width="0.9"/>
<line x1="186.18" y1="261.15" x2="186.18" y2="262.75" stroke="#333" stroke-width="0.9"/>
<line x1="192.32" y1="371.10" x2="192.32" y2="369.50" stroke="#333" stroke-width="0.9"/>
<line x1="192.32" y1="261.15" x2="192.32" y2="262.75" stroke="#333" stroke-width="0.9"/>
<line x1="198.46" y1="371.10" x2="198.46" y2="369.50" stroke="#333" stroke-width="0.9"/>
<line x1="198.46" y1="261.15" x2="198.46" y2="262.75" stroke="#333" stroke-width="0.9"/>
<line x1="204.60" y1="371.10" x2="204.60" y2="369.50" stroke="#333" stroke-width="0.9"/>
<line x1="204.60" y1="261.15" x2="204.60" y2="262.75" stroke="#333" stroke-width="0.9"/>
<line x1="124.77" y1="364.99" x2="126.37" y2="364.99" stroke="#333" stroke-width="0.9"/>
<line x1="209.14" y1="364.99" x2="210.74" y2="364.99" stroke="#333" stroke-width="0.9"/>
<line x1="124.77" y1="358.88" x2="126.37" y2="358.88" stroke="#333" stroke-width="0.9"/>
<line x1="209.14" y1="358.88" x2="210.74" y2="358.88" stroke="#333" stroke-width="0.9"/>
<line x1="124.77" y1="352.77" x2="126.37" y2="352.77" stroke="#333" stroke-width="0.9"/>
<line x1="209.14" y1="352.77" x2="210.74" y2="352.77" stroke="#333" stroke-width="0.9"/>
<line x1="124.77" y1="346.67" x2="126.37" y2="346.67" stroke="#333" stroke-width="0.9"/>
<line x1="209.14" y1="346.67" x2="210.74" y2="346.67" stroke="#333" stroke-width="0.9"/>
<line x1="124.77" y1="340.56" x2="126.37" y2="340.56" stroke="#333" stroke-width="0.9"/>
<line x1="209.14" y1="340.56" x2="210.74" y2="340.56" stroke="#333" stroke-width="0.9"/>
<line x1="124.77" y1="334.45" x2="126.37" y2="334.45" stroke="#333" stroke-width="0.9"/>
<line x1="209.14" y1="334.45" x2="210.74" y2="334.45" stroke="#333" stroke-width="0.9"/>
<line x1="124.77" y1="328.34" x2="126.37" y2="328.34" stroke="#333" stroke-width="0.9"/>
<line x1="209.14" y1="328.34" x2="210.74" y2="328.34" stroke="#333" stroke-width="0.9"/>
<line x1="124.77" y1="322.23" x2="126.37" y2="322.23" stroke="#333" stroke-width="0.9"/>
<line x1="209.14" y1="322.23" x2="210.74" y2="322.23" stroke="#333" stroke-width="0.9"/>
<line x1="124.77" y1="316.12" x2="126.37" y2="316.12" stroke="#333" stroke-width="0.9"/>
<line x1="209.14" y1="316.12" x2="210.74" y2="316.12" stroke="#333" stroke-width="0.9"/>
<line x1="124.77" y1="310.02" x2="126.37" y2="310.02" stroke="#333" stroke-width="0.9"/>
<line x1="209.14" y1="310.02" x2="210.74" y2="310.02" stroke="#333" stroke-width="0.9"/>
<line x1="124.77" y1="303.91" x2="126.37" y2="303.91" stroke="#333" stroke-width="0.9"/>
<line x1="209.14" y1="303.91" x2="210.74" y2="303.91" stroke="#333" stroke-width="0.9"/>
<line x1="124.77" y1="297.80" x2="126.37" y2="297.80" stroke="#333" stroke-width="0.9"/>
<line x1="209.14" y1="297.80" x2="210.74" y2="297.80" stroke="#333" stroke-width="0.9"/>
<line x1="124.77" y1="291.69" x2="126.37" y2="291.69" stroke="#333" stroke-width="0.9"/>
<line x1="209.14" y1="291.69" x2="210.74" y2="291.69" stroke="#333" stroke-width="0.9"/>
<line x1="124.77" y1="285.58" x2="126.37" y2="285.58" stroke="#333" stroke-width="0.9"/>
<line x1="209.14" y1="285.58" x2="210.74" y2="285.58" stroke="#333" stroke-width="0.9"/>
<line x1="124.77" y1="279.47" x2="126.37" y2="279.47" stroke="#333" stroke-width="0.9"/>
<line x1="209.14" y1="279.47" x2="210.74" y2="279.47" stroke="#333" stroke-width="0.9"/>
<line x1="124.77" y1="273.37" x2="126.37" y2="273.37" stroke="#333" stroke-width="0.9"/>
<line x1="209.14" y1="273.37" x2="210.74" y2="273.37" stroke="#333" stroke-width="0.9"/>
<line x1="124.77" y1="267.26" x2="126.37" y2="267.26" stroke="#333" stroke-width="0.9"/>
<line x1="209.14" y1="267.26" x2="210.74" y2="267.26" stroke="#333" stroke-width="0.9"/>
<rect x="210.74" y="261.15" width="85.97" height="109.95" fill="none" stroke="#222" stroke-width="1.15"/>
<line x1="216.88" y1="371.10" x2="216.88" y2="369.50" stroke="#333" stroke-width="0.9"/>
<line x1="216.88" y1="261.15" x2="216.88" y2="262.75" stroke="#333" stroke-width="0.9"/>
<line x1="223.02" y1="371.10" x2="223.02" y2="369.50" stroke="#333" stroke-width="0.9"/>
<line x1="223.02" y1="261.15" x2="223.02" y2="262.75" stroke="#333" stroke-width="0.9"/>
<line x1="229.17" y1="371.10" x2="229.17" y2="369.50" stroke="#333" stroke-width="0.9"/>
<line x1="229.17" y1="261.15" x2="229.17" y2="262.75" stroke="#333" stroke-width="0.9"/>
<line x1="235.31" y1="371.10" x2="235.31" y2="369.50" stroke="#333" stroke-width="0.9"/>
<line x1="235.31" y1="261.15" x2="235.31" y2="262.75" stroke="#333" stroke-width="0.9"/>
<line x1="241.45" y1="371.10" x2="241.45" y2="369.50" stroke="#333" stroke-width="0.9"/>
<line x1="241.45" y1="261.15" x2="241.45" y2="262.75" stroke="#333" stroke-width="0.9"/>
<line x1="247.59" y1="371.10" x2="247.59" y2="369.50" stroke="#333" stroke-width="0.9"/>
<line x1="247.59" y1="261.15" x2="247.59" y2="262.75" stroke="#333" stroke-width="0.9"/>
<line x1="253.73" y1="371.10" x2="253.73" y2="369.50" stroke="#333" stroke-width="0.9"/>
<line x1="253.73" y1="261.15" x2="253.73" y2="262.75" stroke="#333" stroke-width="0.9"/>
<line x1="259.87" y1="371.10" x2="259.87" y2="369.50" stroke="#333" stroke-width="0.9"/>
<line x1="259.87" y1="261.15" x2="259.87" y2="262.75" stroke="#333" stroke-width="0.9"/>
<line x1="266.01" y1="371.10" x2="266.01" y2="369.50" stroke="#333" stroke-width="0.9"/>
<line x1="266.01" y1="261.15" x2="266.01" y2="262.75" stroke="#333" stroke-width="0.9"/>
<line x1="272.15" y1="371.10" x2="272.15" y2="369.50" stroke="#333" stroke-width="0.9"/>
<line x1="272.15" y1="261.15" x2="272.15" y2="262.75" stroke="#333" stroke-width="0.9"/>
<line x1="278.29" y1="371.10" x2="278.29" y2="369.50" stroke="#333" stroke-width="0.9"/>
<line x1="278.29" y1="261.15" x2="278.29" y2="262.75" stroke="#333" stroke-width="0.9"/>
<line x1="284.43" y1="371.10" x2="284.43" y2="369.50" stroke="#333" stroke-width="0.9"/>
<line x1="284.43" y1="261.15" x2="284.43" y2="262.75" stroke="#333" stroke-width="0.9"/>
<line x1="290.57" y1="371.10" x2="290.57" y2="369.50" stroke="#333" stroke-width="0.9"/>
<line x1="290.57" y1="261.15" x2="290.57" y2="262.75" stroke="#333" stroke-width="0.9"/>
<line x1="210.74" y1="364.99" x2="212.34" y2="364.99" stroke="#333" stroke-width="0.9"/>
<line x1="295.11" y1="364.99" x2="296.71" y2="364.99" stroke="#333" stroke-width="0.9"/>
<line x1="210.74" y1="358.88" x2="212.34" y2="358.88" stroke="#333" stroke-width="0.9"/>
<line x1="295.11" y1="358.88" x2="296.71" y2="358.88" stroke="#333" stroke-width="0.9"/>
<line x1="210.74" y1="352.77" x2="212.34" y2="352.77" stroke="#333" stroke-width="0.9"/>
<line x1="295.11" y1="352.77" x2="296.71" y2="352.77" stroke="#333" stroke-width="0.9"/>
<line x1="210.74" y1="346.67" x2="212.34" y2="346.67" stroke="#333" stroke-width="0.9"/>
<line x1="295.11" y1="346.67" x2="296.71" y2="346.67" stroke="#333" stroke-width="0.9"/>
<line x1="210.74" y1="340.56" x2="212.34" y2="340.56" stroke="#333" stroke-width="0.9"/>
<line x1="295.11" y1="340.56" x2="296.71" y2="340.56" stroke="#333" stroke-width="0.9"/>
<line x1="210.74" y1="334.45" x2="212.34" y2="334.45" stroke="#333" stroke-width="0.9"/>
<line x1="295.11" y1="334.45" x2="296.71" y2="334.45" stroke="#333" stroke-width="0.9"/>
<line x1="210.74" y1="328.34" x2="212.34" y2="328.34" stroke="#333" stroke-width="0.9"/>
<line x1="295.11" y1="328.34" x2="296.71" y2="328.34" stroke="#333" stroke-width="0.9"/>
<line x1="210.74" y1="322.23" x2="212.34" y2="322.23" stroke="#333" stroke-width="0.9"/>
<line x1="295.11" y1="322.23" x2="296.71" y2="322.23" stroke="#333" stroke-width="0.9"/>
<line x1="210.74" y1="316.12" x2="212.34" y2="316.12" stroke="#333" stroke-width="0.9"/>
<line x1="295.11" y1="316.12" x2="296.71" y2="316.12" stroke="#333" stroke-width="0.9"/>
<line x1="210.74" y1="310.02" x2="212.34" y2="310.02" stroke="#333" stroke-width="0.9"/>
<line x1="295.11" y1="310.02" x2="296.71" y2="310.02" stroke="#333" stroke-width="0.9"/>
<line x1="210.74" y1="303.91" x2="212.34" y2="303.91" stroke="#333" stroke-width="0.9"/>
<line x1="295.11" y1="303.91" x2="296.71" y2="303.91" stroke="#333" stroke-width="0.9"/>
<line x1="210.74" y1="297.80" x2="212.34" y2="297.80" stroke="#333" stroke-width="0.9"/>
<line x1="295.11" y1="297.80" x2="296.71" y2="297.80" stroke="#333" stroke-width="0.9"/>
<line x1="210.74" y1="291.69" x2="212.34" y2="291.69" stroke="#333" stroke-width="0.9"/>
<line x1="295.11" y1="291.69" x2="296.71" y2="291.69" stroke="#333" stroke-width="0.9"/>
<line x1="210.74" y1="285.58" x2="212.34" y2="285.58" stroke="#333" stroke-width="0.9"/>
<line x1="295.11" y1="285.58" x2="296.71" y2="285.58" stroke="#333" stroke-width="0.9"/>
<line x1="210.74" y1="279.47" x2="212.34" y2="279.47" stroke="#333" stroke-width="0.9"/>
<line x1="295.11" y1="279.47" x2="296.71" y2="279.47" stroke="#333" stroke-width="0.9"/>
<line x1="210.74" y1="273.37" x2="212.34" y2="273.37" stroke="#333" stroke-width="0.9"/>
<line x1="295.11" y1="273.37" x2="296.71" y2="273.37" stroke="#333" stroke-width="0.9"/>
<line x1="210.74" y1="267.26" x2="212.34" y2="267.26" stroke="#333" stroke-width="0.9"/>
<line x1="295.11" y1="267.26" x2="296.71" y2="267.26" stroke="#333" stroke-width="0.9"/>
<rect x="296.71" y="261.15" width="85.97" height="109.95" fill="none" stroke="#222" stroke-width="1.15"/>
<line x1="302.86" y1="371.10" x2="302.86" y2="369.50" stroke="#333" stroke-width="0.9"/>
<line x1="302.86" y1="261.15" x2="302.86" y2="262.75" stroke="#333" stroke-width="0.9"/>
<line x1="309.00" y1="371.10" x2="309.00" y2="369.50" stroke="#333" stroke-width="0.9"/>
<line x1="309.00" y1="261.15" x2="309.00" y2="262.75" stroke="#333" stroke-width="0.9"/>
<line x1="315.14" y1="371.10" x2="315.14" y2="369.50" stroke="#333" stroke-width="0.9"/>
<line x1="315.14" y1="261.15" x2="315.14" y2="262.75" stroke="#333" stroke-width="0.9"/>
<line x1="321.28" y1="371.10" x2="321.28" y2="369.50" stroke="#333" stroke-width="0.9"/>
<line x1="321.28" y1="261.15" x2="321.28" y2="262.75" stroke="#333" stroke-width="0.9"/>
<line x1="327.42" y1="371.10" x2="327.42" y2="369.50" stroke="#333" stroke-width="0.9"/>
<line x1="327.42" y1="261.15" x2="327.42" y2="262.75" stroke="#333" stroke-width="0.9"/>
<line x1="333.56" y1="371.10" x2="333.56" y2="369.50" stroke="#333" stroke-width="0.9"/>
<line x1="333.56" y1="261.15" x2="333.56" y2="262.75" stroke="#333" stroke-width="0.9"/>
<line x1="339.70" y1="371.10" x2="339.70" y2="369.50" stroke="#333" stroke-width="0.9"/>
<line x1="339.70" y1="261.15" x2="339.70" y2="262.75" stroke="#333" stroke-width="0.9"/>
<line x1="345.84" y1="371.10" x2="345.84" y2="369.50" stroke="#333" stroke-width="0.9"/>
<line x1="345.84" y1="261.15" x2="345.84" y2="262.75" stroke="#333" stroke-width="0.9"/>
<line x1="351.98" y1="371.10" x2="351.98" y2="369.50" stroke="#333" stroke-width="0.9"/>
<line x1="351.98" y1="261.15" x2="351.98" y2="262.75" stroke="#333" stroke-width="0.9"/>
<line x1="358.12" y1="371.10" x2="358.12" y2="369.50" stroke="#333" stroke-width="0.9"/>
<line x1="358.12" y1="261.15" x2="358.12" y2="262.75" stroke="#333" stroke-width="0.9"/>
<line x1="364.26" y1="371.10" x2="364.26" y2="369.50" stroke="#333" stroke-width="0.9"/>
<line x1="364.26" y1="261.15" x2="364.26" y2="262.75" stroke="#333" stroke-width="0.9"/>
<line x1="370.40" y1="371.10" x2="370.40" y2="369.50" stroke="#333" stroke-width="0.9"/>
<line x1="370.40" y1="261.15" x2="370.40" y2="262.75" stroke="#333" stroke-width="0.9"/>
<line x1="376.54" y1="371.10" x2="376.54" y2="369.50" stroke="#333" stroke-width="0.9"/>
<line x1="376.54" y1="261.15" x2="376.54" y2="262.75" stroke="#333" stroke-width="0.9"/>
<line x1="296.71" y1="364.99" x2="298.31" y2="364.99" stroke="#333" stroke-width="0.9"/>
<line x1="381.09" y1="364.99" x2="382.69" y2="364.99" stroke="#333" stroke-width="0.9"/>
<line x1="296.71" y1="358.88" x2="298.31" y2="358.88" stroke="#333" stroke-width="0.9"/>
<line x1="381.09" y1="358.88" x2="382.69" y2="358.88" stroke="#333" stroke-width="0.9"/>
<line x1="296.71" y1="352.77" x2="298.31" y2="352.77" stroke="#333" stroke-width="0.9"/>
<line x1="381.09" y1="352.77" x2="382.69" y2="352.77" stroke="#333" stroke-width="0.9"/>
<line x1="296.71" y1="346.67" x2="298.31" y2="346.67" stroke="#333" stroke-width="0.9"/>
<line x1="381.09" y1="346.67" x2="382.69" y2="346.67" stroke="#333" stroke-width="0.9"/>
<line x1="296.71" y1="340.56" x2="298.31" y2="340.56" stroke="#333" stroke-width="0.9"/>
<line x1="381.09" y1="340.56" x2="382.69" y2="340.56" stroke="#333" stroke-width="0.9"/>
<line x1="296.71" y1="334.45" x2="298.31" y2="334.45" stroke="#333" stroke-width="0.9"/>
<line x1="381.09" y1="334.45" x2="382.69" y2="334.45" stroke="#333" stroke-width="0.9"/>
<line x1="296.71" y1="328.34" x2="298.31" y2="328.34" stroke="#333" stroke-width="0.9"/>
<line x1="381.09" y1="328.34" x2="382.69" y2="328.34" stroke="#333" stroke-width="0.9"/>
<line x1="296.71" y1="322.23" x2="298.31" y2="322.23" stroke="#333" stroke-width="0.9"/>
<line x1="381.09" y1="322.23" x2="382.69" y2="322.23" stroke="#333" stroke-width="0.9"/>
<line x1="296.71" y1="316.12" x2="298.31" y2="316.12" stroke="#333" stroke-width="0.9"/>
<line x1="381.09" y1="316.12" x2="382.69" y2="316.12" stroke="#333" stroke-width="0.9"/>
<line x1="296.71" y1="310.02" x2="298.31" y2="310.02" stroke="#333" stroke-width="0.9"/>
<line x1="381.09" y1="310.02" x2="382.69" y2="310.02" stroke="#333" stroke-width="0.9"/>
<line x1="296.71" y1="303.91" x2="298.31" y2="303.91" stroke="#333" stroke-width="0.9"/>
<line x1="381.09" y1="303.91" x2="382.69" y2="303.91" stroke="#333" stroke-width="0.9"/>
<line x1="296.71" y1="297.80" x2="298.31" y2="297.80" stroke="#333" stroke-width="0.9"/>
<line x1="381.09" y1="297.80" x2="382.69" y2="297.80" stroke="#333" stroke-width="0.9"/>
<line x1="296.71" y1="291.69" x2="298.31" y2="291.69" stroke="#333" stroke-width="0.9"/>
<line x1="381.09" y1="291.69" x2="382.69" y2="291.69" stroke="#333" stroke-width="0.9"/>
<line x1="296.71" y1="285.58" x2="298.31" y2="285.58" stroke="#333" stroke-width="0.9"/>
<line x1="381.09" y1="285.58" x2="382.69" y2="285.58" stroke="#333" stroke-width="0.9"/>
<line x1="296.71" y1="279.47" x2="298.31" y2="279.47" stroke="#333" stroke-width="0.9"/>
<line x1="381.09" y1="279.47" x2="382.69" y2="279.47" stroke="#333" stroke-width="0.9"/>
<line x1="296.71" y1="273.37" x2="298.31" y2="273.37" stroke="#333" stroke-width="0.9"/>
<line x1="381.09" y1="273.37" x2="382.69" y2="273.37" stroke="#333" stroke-width="0.9"/>
<line x1="296.71" y1="267.26" x2="298.31" y2="267.26" stroke="#333" stroke-width="0.9"/>
<line x1="381.09" y1="267.26" x2="382.69" y2="267.26" stroke="#333" stroke-width="0.9"/>
<rect x="382.69" y="261.15" width="85.97" height="109.95" fill="none" stroke="#222" stroke-width="1.15"/>
<line x1="388.83" y1="371.10" x2="388.83" y2="369.50" stroke="#333" stroke-width="0.9"/>
<line x1="388.83" y1="261.15" x2="388.83" y2="262.75" stroke="#333" stroke-width="0.9"/>
<line x1="394.97" y1="371.10" x2="394.97" y2="369.50" stroke="#333" stroke-width="0.9"/>
<line x1="394.97" y1="261.15" x2="394.97" y2="262.75" stroke="#333" stroke-width="0.9"/>
<line x1="401.11" y1="371.10" x2="401.11" y2="369.50" stroke="#333" stroke-width="0.9"/>
<line x1="401.11" y1="261.15" x2="401.11" y2="262.75" stroke="#333" stroke-width="0.9"/>
<line x1="407.25" y1="371.10" x2="407.25" y2="369.50" stroke="#333" stroke-width="0.9"/>
<line x1="407.25" y1="261.15" x2="407.25" y2="262.75" stroke="#333" stroke-width="0.9"/>
<line x1="413.39" y1="371.10" x2="413.39" y2="369.50" stroke="#333" stroke-width="0.9"/>
<line x1="413.39" y1="261.15" x2="413.39" y2="262.75" stroke="#333" stroke-width="0.9"/>
<line x1="419.53" y1="371.10" x2="419.53" y2="369.50" stroke="#333" stroke-width="0.9"/>
<line x1="419.53" y1="261.15" x2="419.53" y2="262.75" stroke="#333" stroke-width="0.9"/>
<line x1="425.67" y1="371.10" x2="425.67" y2="369.50" stroke="#333" stroke-width="0.9"/>
<line x1="425.67" y1="261.15" x2="425.67" y2="262.75" stroke="#333" stroke-width="0.9"/>
<line x1="431.81" y1="371.10" x2="431.81" y2="369.50" stroke="#333" stroke-width="0.9"/>
<line x1="431.81" y1="261.15" x2="431.81" y2="262.75" stroke="#333" stroke-width="0.9"/>
<line x1="437.95" y1="371.10" x2="437.95" y2="369.50" stroke="#333" stroke-width="0.9"/>
<line x1="437.95" y1="261.15" x2="437.95" y2="262.75" stroke="#333" stroke-width="0.9"/>
<line x1="444.09" y1="371.10" x2="444.09" y2="369.50" stroke="#333" stroke-width="0.9"/>
<line x1="444.09" y1="261.15" x2="444.09" y2="262.75" stroke="#333" stroke-width="0.9"/>
<line x1="450.23" y1="371.10" x2="450.23" y2="369.50" stroke="#333" stroke-width="0.9"/>
<line x1="450.23" y1="261.15" x2="450.23" y2="262.75" stroke="#333" stroke-width="0.9"/>
<line x1="456.38" y1="371.10" x2="456.38" y2="369.50" stroke="#333" stroke-width="0.9"/>
<line x1="456.38" y1="261.15" x2="456.38" y2="262.75" stroke="#333" stroke-width="0.9"/>
<line x1="462.52" y1="371.10" x2="462.52" y2="369.50" stroke="#333" stroke-width="0.9"/>
<line x1="462.52" y1="261.15" x2="462.52" y2="262.75" stroke="#333" stroke-width="0.9"/>
<line x1="382.69" y1="364.99" x2="384.29" y2="364.99" stroke="#333" stroke-width="0.9"/>
<line x1="467.06" y1="364.99" x2="468.66" y2="364.99" stroke="#333" stroke-width="0.9"/>
<line x1="382.69" y1="358.88" x2="384.29" y2="358.88" stroke="#333" stroke-width="0.9"/>
<line x1="467.06" y1="358.88" x2="468.66" y2="358.88" stroke="#333" stroke-width="0.9"/>
<line x1="382.69" y1="352.77" x2="384.29" y2="352.77" stroke="#333" stroke-width="0.9"/>
<line x1="467.06" y1="352.77" x2="468.66" y2="352.77" stroke="#333" stroke-width="0.9"/>
<line x1="382.69" y1="346.67" x2="384.29" y2="346.67" stroke="#333" stroke-width="0.9"/>
<line x1="467.06" y1="346.67" x2="468.66" y2="346.67" stroke="#333" stroke-width="0.9"/>
<line x1="382.69" y1="340.56" x2="384.29" y2="340.56" stroke="#333" stroke-width="0.9"/>
<line x1="467.06" y1="340.56" x2="468.66" y2="340.56" stroke="#333" stroke-width="0.9"/>
<line x1="382.69" y1="334.45" x2="384.29" y2="334.45" stroke="#333" stroke-width="0.9"/>
<line x1="467.06" y1="334.45" x2="468.66" y2="334.45" stroke="#333" stroke-width="0.9"/>
<line x1="382.69" y1="328.34" x2="384.29" y2="328.34" stroke="#333" stroke-width="0.9"/>
<line x1="467.06" y1="328.34" x2="468.66" y2="328.34" stroke="#333" stroke-width="0.9"/>
<line x1="382.69" y1="322.23" x2="384.29" y2="322.23" stroke="#333" stroke-width="0.9"/>
<line x1="467.06" y1="322.23" x2="468.66" y2="322.23" stroke="#333" stroke-width="0.9"/>
<line x1="382.69" y1="316.12" x2="384.29" y2="316.12" stroke="#333" stroke-width="0.9"/>
<line x1="467.06" y1="316.12" x2="468.66" y2="316.12" stroke="#333" stroke-width="0.9"/>
<line x1="382.69" y1="310.02" x2="384.29" y2="310.02" stroke="#333" stroke-width="0.9"/>
<line x1="467.06" y1="310.02" x2="468.66" y2="310.02" stroke="#333" stroke-width="0.9"/>
<line x1="382.69" y1="303.91" x2="384.29" y2="303.91" stroke="#333" stroke-width="0.9"/>
<line x1="467.06" y1="303.91" x2="468.66" y2="303.91" stroke="#333" stroke-width="0.9"/>
<line x1="382.69" y1="297.80" x2="384.29" y2="297.80" stroke="#333" stroke-width="0.9"/>
<line x1="467.06" y1="297.80" x2="468.66" y2="297.80" stroke="#333" stroke-width="0.9"/>
<line x1="382.69" y1="291.69" x2="384.29" y2="291.69" stroke="#333" stroke-width="0.9"/>
<line x1="467.06" y1="291.69" x2="468.66" y2="291.69" stroke="#333" stroke-width="0.9"/>
<line x1="382.69" y1="285.58" x2="384.29" y2="285.58" stroke="#333" stroke-width="0.9"/>
<line x1="467.06" y1="285.58" x2="468.66" y2="285.58" stroke="#333" stroke-width="0.9"/>
<line x1="382.69" y1="279.47" x2="384.29" y2="279.47" stroke="#333" stroke-width="0.9"/>
<line x1="467.06" y1="279.47" x2="468.66" y2="279.47" stroke="#333" stroke-width="0.9"/>
<line x1="382.69" y1="273.37" x2="384.29" y2="273.37" stroke="#333" stroke-width="0.9"/>
<line x1="467.06" y1="273.37" x2="468.66" y2="273.37" stroke="#333" stroke-width="0.9"/>
<line x1="382.69" y1="267.26" x2="384.29" y2="267.26" stroke="#333" stroke-width="0.9"/>
<line x1="467.06" y1="267.26" x2="468.66" y2="267.26" stroke="#333" stroke-width="0.9"/>
<rect x="468.66" y="261.15" width="85.97" height="109.95" fill="none" stroke="#222" stroke-width="1.15"/>
<line x1="474.80" y1="371.10" x2="474.80" y2="369.50" stroke="#333" stroke-width="0.9"/>
<line x1="474.80" y1="261.15" x2="474.80" y2="262.75" stroke="#333" stroke-width="0.9"/>
<line x1="480.94" y1="371.10" x2="480.94" y2="369.50" stroke="#333" stroke-width="0.9"/>
<line x1="480.94" y1="261.15" x2="480.94" y2="262.75" stroke="#333" stroke-width="0.9"/>
<line x1="487.08" y1="371.10" x2="487.08" y2="369.50" stroke="#333" stroke-width="0.9"/>
<line x1="487.08" y1="261.15" x2="487.08" y2="262.75" stroke="#333" stroke-width="0.9"/>
<line x1="493.22" y1="371.10" x2="493.22" y2="369.50" stroke="#333" stroke-width="0.9"/>
<line x1="493.22" y1="261.15" x2="493.22" y2="262.75" stroke="#333" stroke-width="0.9"/>
<line x1="499.36" y1="371.10" x2="499.36" y2="369.50" stroke="#333" stroke-width="0.9"/>
<line x1="499.36" y1="261.15" x2="499.36" y2="262.75" stroke="#333" stroke-width="0.9"/>
<line x1="505.50" y1="371.10" x2="505.50" y2="369.50" stroke="#333" stroke-width="0.9"/>
<line x1="505.50" y1="261.15" x2="505.50" y2="262.75" stroke="#333" stroke-width="0.9"/>
<line x1="511.64" y1="371.10" x2="511.64" y2="369.50" stroke="#333" stroke-width="0.9"/>
<line x1="511.64" y1="261.15" x2="511.64" y2="262.75" stroke="#333" stroke-width="0.9"/>
<line x1="517.78" y1="371.10" x2="517.78" y2="369.50" stroke="#333" stroke-width="0.9"/>
<line x1="517.78" y1="261.15" x2="517.78" y2="262.75" stroke="#333" stroke-width="0.9"/>
<line x1="523.92" y1="371.10" x2="523.92" y2="369.50" stroke="#333" stroke-width="0.9"/>
<line x1="523.92" y1="261.15" x2="523.92" y2="262.75" stroke="#333" stroke-width="0.9"/>
<line x1="530.07" y1="371.10" x2="530.07" y2="369.50" stroke="#333" stroke-width="0.9"/>
<line x1="530.07" y1="261.15" x2="530.07" y2="262.75" stroke="#333" stroke-width="0.9"/>
<line x1="536.21" y1="371.10" x2="536.21" y2="369.50" stroke="#333" stroke-width="0.9"/>
<line x1="536.21" y1="261.15" x2="536.21" y2="262.75" stroke="#333" stroke-width="0.9"/>
<line x1="542.35" y1="371.10" x2="542.35" y2="369.50" stroke="#333" stroke-width="0.9"/>
<line x1="542.35" y1="261.15" x2="542.35" y2="262.75" stroke="#333" stroke-width="0.9"/>
<line x1="548.49" y1="371.10" x2="548.49" y2="369.50" stroke="#333" stroke-width="0.9"/>
<line x1="548.49" y1="261.15" x2="548.49" y2="262.75" stroke="#333" stroke-width="0.9"/>
<line x1="468.66" y1="364.99" x2="470.26" y2="364.99" stroke="#333" stroke-width="0.9"/>
<line x1="553.03" y1="364.99" x2="554.63" y2="364.99" stroke="#333" stroke-width="0.9"/>
<line x1="468.66" y1="358.88" x2="470.26" y2="358.88" stroke="#333" stroke-width="0.9"/>
<line x1="553.03" y1="358.88" x2="554.63" y2="358.88" stroke="#333" stroke-width="0.9"/>
<line x1="468.66" y1="352.77" x2="470.26" y2="352.77" stroke="#333" stroke-width="0.9"/>
<line x1="553.03" y1="352.77" x2="554.63" y2="352.77" stroke="#333" stroke-width="0.9"/>
<line x1="468.66" y1="346.67" x2="470.26" y2="346.67" stroke="#333" stroke-width="0.9"/>
<line x1="553.03" y1="346.67" x2="554.63" y2="346.67" stroke="#333" stroke-width="0.9"/>
<line x1="468.66" y1="340.56" x2="470.26" y2="340.56" stroke="#333" stroke-width="0.9"/>
<line x1="553.03" y1="340.56" x2="554.63" y2="340.56" stroke="#333" stroke-width="0.9"/>
<line x1="468.66" y1="334.45" x2="470.26" y2="334.45" stroke="#333" stroke-width="0.9"/>
<line x1="553.03" y1="334.45" x2="554.63" y2="334.45" stroke="#333" stroke-width="0.9"/>
<line x1="468.66" y1="328.34" x2="470.26" y2="328.34" stroke="#333" stroke-width="0.9"/>
<line x1="553.03" y1="328.34" x2="554.63" y2="328.34" stroke="#333" stroke-width="0.9"/>
<line x1="468.66" y1="322.23" x2="470.26" y2="322.23" stroke="#333" stroke-width="0.9"/>
<line x1="553.03" y1="322.23" x2="554.63" y2="322.23" stroke="#333" stroke-width="0.9"/>
<line x1="468.66" y1="316.12" x2="470.26" y2="316.12" stroke="#333" stroke-width="0.9"/>
<line x1="553.03" y1="316.12" x2="554.63" y2="316.12" stroke="#333" stroke-width="0.9"/>
<line x1="468.66" y1="310.02" x2="470.26" y2="310.02" stroke="#333" stroke-width="0.9"/>
<line x1="553.03" y1="310.02" x2="554.63" y2="310.02" stroke="#333" stroke-width="0.9"/>
<line x1="468.66" y1="303.91" x2="470.26" y2="303.91" stroke="#333" stroke-width="0.9"/>
<line x1="553.03" y1="303.91" x2="554.63" y2="303.91" stroke="#333" stroke-width="0.9"/>
<line x1="468.66" y1="297.80" x2="470.26" y2="297.80" stroke="#333" stroke-width="0.9"/>
<line x1="553.03" y1="297.80" x2="554.63" y2="297.80" stroke="#333" stroke-width="0.9"/>
<line x1="468.66" y1="291.69" x2="470.26" y2="291.69" stroke="#333" stroke-width="0.9"/>
<line x1="553.03" y1="291.69" x2="554.63" y2="291.69" stroke="#333" stroke-width="0.9"/>
<line x1="468.66" y1="285.58" x2="470.26" y2="285.58" stroke="#333" stroke-width="0.9"/>
<line x1="553.03" y1="285.58" x2="554.63" y2="285.58" stroke="#333" stroke-width="0.9"/>
<line x1="468.66" y1="279.47" x2="470.26" y2="279.47" stroke="#333" stroke-width="0.9"/>
<line x1="553.03" y1="279.47" x2="554.63" y2="279.47" stroke="#333" stroke-width="0.9"/>
<line x1="468.66" y1="273.37" x2="470.26" y2="273.37" stroke="#333" stroke-width="0.9"/>
<line x1="553.03" y1="273.37" x2="554.63" y2="273.37" stroke="#333" stroke-width="0.9"/>
<line x1="468.66" y1="267.26" x2="470.26" y2="267.26" stroke="#333" stroke-width="0.9"/>
<line x1="553.03" y1="267.26" x2="554.63" y2="267.26" stroke="#333" stroke-width="0.9"/>
<rect x="554.63" y="261.15" width="85.97" height="109.95" fill="none" stroke="#222" stroke-width="1.15"/>
<line x1="560.77" y1="371.10" x2="560.77" y2="369.50" stroke="#333" stroke-width="0.9"/>
<line x1="560.77" y1="261.15" x2="560.77" y2="262.75" stroke="#333" stroke-width="0.9"/>
<line x1="566.91" y1="371.10" x2="566.91" y2="369.50" stroke="#333" stroke-width="0.9"/>
<line x1="566.91" y1="261.15" x2="566.91" y2="262.75" stroke="#333" stroke-width="0.9"/>
<line x1="573.05" y1="371.10" x2="573.05" y2="369.50" stroke="#333" stroke-width="0.9"/>
<line x1="573.05" y1="261.15" x2="573.05" y2="262.75" stroke="#333" stroke-width="0.9"/>
<line x1="579.19" y1="371.10" x2="579.19" y2="369.50" stroke="#333" stroke-width="0.9"/>
<line x1="579.19" y1="261.15" x2="579.19" y2="262.75" stroke="#333" stroke-width="0.9"/>
<line x1="585.33" y1="371.10" x2="585.33" y2="369.50" stroke="#333" stroke-width="0.9"/>
<line x1="585.33" y1="261.15" x2="585.33" y2="262.75" stroke="#333" stroke-width="0.9"/>
<line x1="591.47" y1="371.10" x2="591.47" y2="369.50" stroke="#333" stroke-width="0.9"/>
<line x1="591.47" y1="261.15" x2="591.47" y2="262.75" stroke="#333" stroke-width="0.9"/>
<line x1="597.61" y1="371.10" x2="597.61" y2="369.50" stroke="#333" stroke-width="0.9"/>
<line x1="597.61" y1="261.15" x2="597.61" y2="262.75" stroke="#333" stroke-width="0.9"/>
<line x1="603.76" y1="371.10" x2="603.76" y2="369.50" stroke="#333" stroke-width="0.9"/>
<line x1="603.76" y1="261.15" x2="603.76" y2="262.75" stroke="#333" stroke-width="0.9"/>
<line x1="609.90" y1="371.10" x2="609.90" y2="369.50" stroke="#333" stroke-width="0.9"/>
<line x1="609.90" y1="261.15" x2="609.90" y2="262.75" stroke="#333" stroke-width="0.9"/>
<line x1="616.04" y1="371.10" x2="616.04" y2="369.50" stroke="#333" stroke-width="0.9"/>
<line x1="616.04" y1="261.15" x2="616.04" y2="262.75" stroke="#333" stroke-width="0.9"/>
<line x1="622.18" y1="371.10" x2="622.18" y2="369.50" stroke="#333" stroke-width="0.9"/>
<line x1="622.18" y1="261.15" x2="622.18" y2="262.75" stroke="#333" stroke-width="0.9"/>
<line x1="628.32" y1="371.10" x2="628.32" y2="369.50" stroke="#333" stroke-width="0.9"/>
<line x1="628.32" y1="261.15" x2="628.32" y2="262.75" stroke="#333" stroke-width="0.9"/>
<line x1="634.46" y1="371.10" x2="634.46" y2="369.50" stroke="#333" stroke-width="0.9"/>
<line x1="634.46" y1="261.15" x2="634.46" y2="262.75" stroke="#333" stroke-width="0.9"/>
<line x1="554.63" y1="364.99" x2="556.23" y2="364.99" stroke="#333" stroke-width="0.9"/>
<line x1="639.00" y1="364.99" x2="640.60" y2="364.99" stroke="#333" stroke-width="0.9"/>
<line x1="554.63" y1="358.88" x2="556.23" y2="358.88" stroke="#333" stroke-width="0.9"/>
<line x1="639.00" y1="358.88" x2="640.60" y2="358.88" stroke="#333" stroke-width="0.9"/>
<line x1="554.63" y1="352.77" x2="556.23" y2="352.77" stroke="#333" stroke-width="0.9"/>
<line x1="639.00" y1="352.77" x2="640.60" y2="352.77" stroke="#333" stroke-width="0.9"/>
<line x1="554.63" y1="346.67" x2="556.23" y2="346.67" stroke="#333" stroke-width="0.9"/>
<line x1="639.00" y1="346.67" x2="640.60" y2="346.67" stroke="#333" stroke-width="0.9"/>
<line x1="554.63" y1="340.56" x2="556.23" y2="340.56" stroke="#333" stroke-width="0.9"/>
<line x1="639.00" y1="340.56" x2="640.60" y2="340.56" stroke="#333" stroke-width="0.9"/>
<line x1="554.63" y1="334.45" x2="556.23" y2="334.45" stroke="#333" stroke-width="0.9"/>
<line x1="639.00" y1="334.45" x2="640.60" y2="334.45" stroke="#333" stroke-width="0.9"/>
<line x1="554.63" y1="328.34" x2="556.23" y2="328.34" stroke="#333" stroke-width="0.9"/>
<line x1="639.00" y1="328.34" x2="640.60" y2="328.34" stroke="#333" stroke-width="0.9"/>
<line x1="554.63" y1="322.23" x2="556.23" y2="322.23" stroke="#333" stroke-width="0.9"/>
<line x1="639.00" y1="322.23" x2="640.60" y2="322.23" stroke="#333" stroke-width="0.9"/>
<line x1="554.63" y1="316.12" x2="556.23" y2="316.12" stroke="#333" stroke-width="0.9"/>
<line x1="639.00" y1="316.12" x2="640.60" y2="316.12" stroke="#333" stroke-width="0.9"/>
<line x1="554.63" y1="310.02" x2="556.23" y2="310.02" stroke="#333" stroke-width="0.9"/>
<line x1="639.00" y1="310.02" x2="640.60" y2="310.02" stroke="#333" stroke-width="0.9"/>
<line x1="554.63" y1="303.91" x2="556.23" y2="303.91" stroke="#333" stroke-width="0.9"/>
<line x1="639.00" y1="303.91" x2="640.60" y2="303.91" stroke="#333" stroke-width="0.9"/>
<line x1="554.63" y1="297.80" x2="556.23" y2="297.80" stroke="#333" stroke-width="0.9"/>
<line x1="639.00" y1="297.80" x2="640.60" y2="297.80" stroke="#333" stroke-width="0.9"/>
<line x1="554.63" y1="291.69" x2="556.23" y2="291.69" stroke="#333" stroke-width="0.9"/>
<line x1="639.00" y1="291.69" x2="640.60" y2="291.69" stroke="#333" stroke-width="0.9"/>
<line x1="554.63" y1="285.58" x2="556.23" y2="285.58" stroke="#333" stroke-width="0.9"/>
<line x1="639.00" y1="285.58" x2="640.60" y2="285.58" stroke="#333" stroke-width="0.9"/>
<line x1="554.63" y1="279.47" x2="556.23" y2="279.47" stroke="#333" stroke-width="0.9"/>
<line x1="639.00" y1="279.47" x2="640.60" y2="279.47" stroke="#333" stroke-width="0.9"/>
<line x1="554.63" y1="273.37" x2="556.23" y2="273.37" stroke="#333" stroke-width="0.9"/>
<line x1="639.00" y1="273.37" x2="640.60" y2="273.37" stroke="#333" stroke-width="0.9"/>
<line x1="554.63" y1="267.26" x2="556.23" y2="267.26" stroke="#333" stroke-width="0.9"/>
<line x1="639.00" y1="267.26" x2="640.60" y2="267.26" stroke="#333" stroke-width="0.9"/>
<text x="34.20" y="293.99" font-size="6.6" text-anchor="end" fill="#333" >5</text>
<text x="34.20" y="324.53" font-size="6.6" text-anchor="end" fill="#333" >0</text>
<text x="34.20" y="355.07" font-size="6.6" text-anchor="end" fill="#333" >-5</text>
<text x="51.08" y="379.40" font-size="6.6" text-anchor="middle" fill="#333" >0</text>
<text x="81.79" y="379.40" font-size="6.6" text-anchor="middle" fill="#333" >5</text>
<text x="112.49" y="379.40" font-size="6.6" text-anchor="middle" fill="#333" >10</text>
<text x="82.19" y="146.80" font-size="9.6" text-anchor="middle" fill="#111" ><tspan font-style="italic">t</tspan> = 0 ns</text>
<text x="137.05" y="379.40" font-size="6.6" text-anchor="middle" fill="#333" >0</text>
<text x="167.76" y="379.40" font-size="6.6" text-anchor="middle" fill="#333" >5</text>
<text x="198.46" y="379.40" font-size="6.6" text-anchor="middle" fill="#333" >10</text>
<text x="168.16" y="146.80" font-size="9.6" text-anchor="middle" fill="#111" ><tspan font-style="italic">t</tspan> = 600 ns</text>
<text x="223.02" y="379.40" font-size="6.6" text-anchor="middle" fill="#333" >0</text>
<text x="253.73" y="379.40" font-size="6.6" text-anchor="middle" fill="#333" >5</text>
<text x="284.43" y="379.40" font-size="6.6" text-anchor="middle" fill="#333" >10</text>
<text x="254.13" y="146.80" font-size="9.6" text-anchor="middle" fill="#111" ><tspan font-style="italic">t</tspan> = 800 ns</text>
<text x="309.00" y="379.40" font-size="6.6" text-anchor="middle" fill="#333" >0</text>
<text x="339.70" y="379.40" font-size="6.6" text-anchor="middle" fill="#333" >5</text>
<text x="370.40" y="379.40" font-size="6.6" text-anchor="middle" fill="#333" >10</text>
<text x="340.10" y="146.80" font-size="9.6" text-anchor="middle" fill="#111" ><tspan font-style="italic">t</tspan> = 1000 ns</text>
<text x="394.97" y="379.40" font-size="6.6" text-anchor="middle" fill="#333" >0</text>
<text x="425.67" y="379.40" font-size="6.6" text-anchor="middle" fill="#333" >5</text>
<text x="456.38" y="379.40" font-size="6.6" text-anchor="middle" fill="#333" >10</text>
<text x="426.07" y="146.80" font-size="9.6" text-anchor="middle" fill="#111" ><tspan font-style="italic">t</tspan> = 1300 ns</text>
<text x="480.94" y="379.40" font-size="6.6" text-anchor="middle" fill="#333" >0</text>
<text x="511.64" y="379.40" font-size="6.6" text-anchor="middle" fill="#333" >5</text>
<text x="542.35" y="379.40" font-size="6.6" text-anchor="middle" fill="#333" >10</text>
<text x="512.04" y="146.80" font-size="9.6" text-anchor="middle" fill="#111" ><tspan font-style="italic">t</tspan> = 1600&#160;&#160;ns</text>
<text x="566.91" y="379.40" font-size="6.6" text-anchor="middle" fill="#333" >0</text>
<text x="597.61" y="379.40" font-size="6.6" text-anchor="middle" fill="#333" >5</text>
<text x="628.32" y="379.40" font-size="6.6" text-anchor="middle" fill="#333" >10</text>
<text x="598.01" y="146.80" font-size="9.6" text-anchor="middle" fill="#111" ><tspan font-style="italic">t</tspan> = 2250 ns</text>
<text x="45.00" y="164.60" font-size="9.6" text-anchor="start" fill="#111" >Exp.</text>
<text x="45.00" y="274.60" font-size="9.6" text-anchor="start" fill="#111" >Sim.</text>
<text x="18.80" y="259.60" font-size="9.5" text-anchor="middle" fill="#111" transform="rotate(-90 18.8 259.6)">Im<tspan dx="0.7" font-size="11.8">(<tspan font-style="italic">&#945;</tspan>)</tspan></text>
<text x="339.90" y="390.70" font-size="9.5" text-anchor="middle" fill="#111" >Re<tspan font-size="10.6">(<tspan font-style="italic">&#945;</tspan>)</tspan></text>
<rect x="654.6" y="161.5" width="14.70" height="209.50" fill="url(#cbar)" stroke="#333" stroke-width="1.3"/>
<line x1="667.10" y1="182.45" x2="669.30" y2="182.45" stroke="#333" stroke-width="1"/>
<line x1="667.10" y1="203.40" x2="669.30" y2="203.40" stroke="#333" stroke-width="1"/>
<line x1="667.10" y1="224.35" x2="669.30" y2="224.35" stroke="#333" stroke-width="1"/>
<line x1="667.10" y1="245.30" x2="669.30" y2="245.30" stroke="#333" stroke-width="1"/>
<line x1="667.10" y1="266.25" x2="669.30" y2="266.25" stroke="#333" stroke-width="1"/>
<line x1="667.10" y1="287.20" x2="669.30" y2="287.20" stroke="#333" stroke-width="1"/>
<line x1="667.10" y1="308.15" x2="669.30" y2="308.15" stroke="#333" stroke-width="1"/>
<line x1="667.10" y1="329.10" x2="669.30" y2="329.10" stroke="#333" stroke-width="1"/>
<line x1="667.10" y1="350.05" x2="669.30" y2="350.05" stroke="#333" stroke-width="1"/>
<text x="658.50" y="153.60" font-size="10" text-anchor="middle" fill="#111" ><tspan font-style="italic">W</tspan>(<tspan font-style="italic">&#945;</tspan>)</text>
<text x="677.40" y="160.20" font-size="6.2" text-anchor="middle" fill="#111" >2</text><line x1="674.40" y1="161.50" x2="680.40" y2="161.50" stroke="#333" stroke-width="0.6"/><text x="677.40" y="166.10" font-size="6.0" text-anchor="middle" fill="#111" >&#960;</text>
<text x="681.20" y="370.10" font-size="6.2" text-anchor="middle" fill="#111" >2</text><line x1="678.20" y1="371.40" x2="684.20" y2="371.40" stroke="#333" stroke-width="0.6"/><text x="681.20" y="376.00" font-size="6.0" text-anchor="middle" fill="#111" >&#960;</text><line x1="674.40" y1="371.40" x2="676.60" y2="371.40" stroke="#333" stroke-width="0.6"/>
<text x="675.00" y="268.80" font-size="6.2" text-anchor="start" fill="#333" >0</text>
</svg></div></body></html>
